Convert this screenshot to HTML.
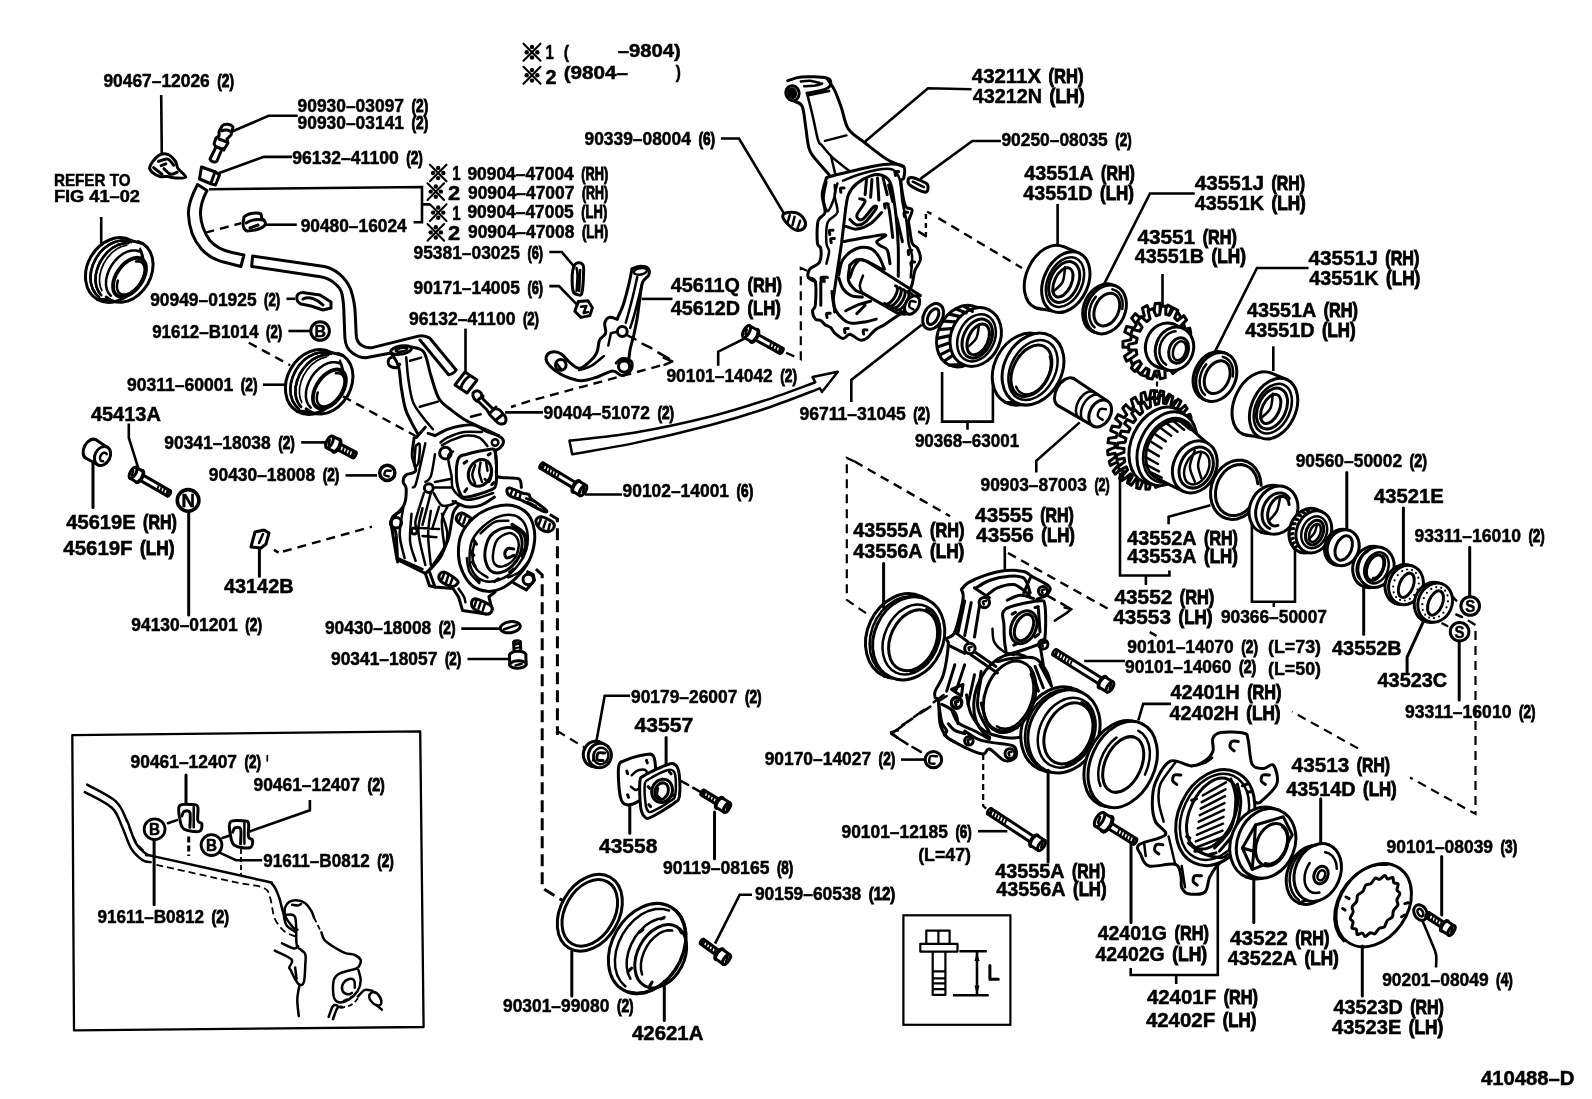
<!DOCTYPE html>
<html><head><meta charset="utf-8"><title>410488-D</title>
<style>
html,body{margin:0;padding:0;background:#fff;}
body{width:1592px;height:1099px;overflow:hidden;}
svg{display:block;}
text{font-family:"Liberation Sans",sans-serif;fill:#000;stroke:#000;stroke-width:0.5;}
.b{font-weight:bold;}
.a{fill:none;stroke:#000;stroke-width:2.5;stroke-linecap:round;stroke-linejoin:round;}
.w{fill:#fff;stroke:#000;stroke-width:2.5;stroke-linecap:round;stroke-linejoin:round;}
.t{fill:none;stroke:#000;stroke-width:1.7;stroke-linecap:round;stroke-linejoin:round;}
.k{fill:none;stroke:#000;stroke-width:3;stroke-linecap:round;stroke-linejoin:round;}
.d{fill:none;stroke:#000;stroke-width:2.4;stroke-dasharray:9 6;}
.l{fill:none;stroke:#000;stroke-width:2.6;}
.f{fill:#000;stroke:none;}
</style></head><body>
<svg style="will-change:transform" width="1592" height="1099" viewBox="0 0 1592 1099">
<rect x="0" y="0" width="1592" height="1099" fill="#fff"/>
<!-- art_01_topleft.svg -->
<g class="l">
<path d="M161.2 95L161.8 154"/>
<path d="M297.7 115.8H268.5L232.7 131.3"/>
<path d="M292 156.9H263.8L218.6 173.3"/>
<path d="M209.1 189.3L422 187V222.3H413.6M422 204.4H430"/>
<path d="M265.7 224.7H296.8"/>
<path d="M286.5 298.8H295"/>
<path d="M288.4 331H310.4"/>
<path d="M263 384.7H287.5"/>
<path d="M465.5 328.6V371.9"/>
<path d="M505.1 412.4H543"/>
</g>
<path class="d" d="M205.4 232.6L241.2 223.2"/>
<path class="d" d="M248.8 342.7L290.3 365.3"/>
<path class="d" d="M343 396.4L415.6 436"/>
<!-- clip 90467 -->
<path class="k" style="fill:#fff" d="M149.8 166.7C150.7 163.9 155.3 157.8 158.3 155.7C161.2 153.7 164.9 153.6 167.7 154.4C170.5 155.3 173.5 158.7 175.2 161.0C177.0 163.4 176.3 165.9 178.0 168.6C179.8 171.2 186.1 175.5 185.6 177.0C185.1 178.6 178.2 178.1 175.2 178.0C172.2 177.9 170.2 176.7 167.7 176.5C165.2 176.2 162.7 177.1 160.1 176.5C157.6 175.8 154.3 174.3 152.6 172.7C150.9 171.1 148.8 169.5 149.8 166.7z"/><path class="k" d="M158.3 161.4C159.8 161.0 165.1 158.5 167.7 159.1C170.3 159.8 172.7 164.2 173.7 165.2M153.6 167.6L162.0 174.2M163.9 168.6C165.0 169.5 168.3 173.6 170.5 174.2C172.7 174.8 176.0 172.6 177.1 172.3M161.1 165.7L165.8 163.9"/>
<!-- union bolt 90930 -->
<g class="k">
<path d="M222 126c3-3 9-2 11 1l-2 8-4 4 1 4-3 5-3 1-5 12c-2 2-6 1-7-2l6-12-2-3 2-6 3-2 0-4z"/>
<path d="M222 131c3-2 7-1 9 1M219 139l8 3M217 147l7 3"/>
</g>
<!-- clip 96132 -->
<g class="k"><path d="M201.5 167l14 5 4 3-4 10-4-1-12-5z"/><path d="M215 172l-4 11"/></g>
<!-- hose 1 -->
<g class="k">
<path d="M197.5 184.5C192 195 188 205 188.4 214c.6 14 5 26 13 35 7 8 16 12 26 14l13.5 3.5 3-11.500-12-2.500c-9-2-16-5-22-12-6-8-9-17-9.500-27C200.500 206 203 198 207 190.500z"/>
</g>
<!-- clip 90480 -->
<g class="k"><path d="M244 217c4-4 14-5 17-3l1 5c3 1 4 4 3 6-3 4-12 6-18 6-3-1-4-4-4-8z"/><path d="M246 223c5-3 12-4 17-3M250 228l8-3"/></g>
<!-- hose 2 -->
<g class="k">
<path d="M252.600 256L251.700 266.400 320.400 276.700c6 1 10 3 13.200 5.700 5 4 8 8 8.500 12.200 1.500 7 1.800 14 1.900 20.800L344.900 338c.5 7 3 12 7.600 15 4 3 8 4.800 13.200 4.800L391 353M252.600 256L324.200 266.400c6 1 11 4 15.100 7.500 6 5 9 10 11.300 15.100 3 9 4.500 18 4.700 26.400L356.200 334.200c0 5 2 9 5.700 11.300 3 2 7 2.500 11.300 1.900L418.400 336.100c4-1 8 0 11.300 1.900L456.100 370c-2 3-5 4.500-7.500 4.700L420 340"/>
</g>
<!-- clip 90949 -->
<g class="k"><path d="M297 296c1-3 5-4 9-3l14 2 11 7v6l-8 2-12-4-10-2c-3-1-5-4-4-8z"/><path d="M303 299c6-3 14 0 20 6"/></g>
<!-- B circle -->
<circle class="k" cx="320.1" cy="331" r="9.3"/>
<text x="314.5" y="337" font-size="16" font-weight="bold" textLength="11.5" lengthAdjust="spacingAndGlyphs">B</text>
<!-- clip 96132 #2 -->
<g class="k"><path d="M455 385l10-13 12 8-10 13z"/><path d="M461 388c1-5 5-10 9-12"/></g>
<!-- bolt 90404 -->
<g class="k"><path d="M473 393c2-3 6-3 8 0l2 6 10 10c4-1 8 1 10 5 3 2 4 6 2 9-3 2-7 1-9-2l-6-6-3-5-8-8c-4-1-7-5-6-9z"/><path d="M478 400l5-4M490 413l6-6M496 420l6-5"/></g>

<!-- art_02.svg -->
<defs><g id="seal"><ellipse class="k" style="fill:#fff" cx="114.4" cy="270.1" rx="27.0" ry="34.0" transform="rotate(30.0 114.4 270.1)"/><path class="a" d="M99.2 297.3L95.5 293.7L92.7 289.0L91.0 283.5L90.4 277.4L91.1 271.0L92.9 264.7L95.8 258.6L99.6 253.0L104.2 248.2L109.4 244.5L115.0 241.9L120.6 240.6L126.0 240.7L131.1 242.1"/><path class="a" d="M101.3 295.3L98.3 291.3L96.3 286.4L95.5 280.8L95.8 274.8L97.3 268.6L99.8 262.5L103.4 256.9L107.7 251.9L112.5 247.9L117.8 245.0L123.1 243.4L128.3 243.1"/><path class="t" d="M102.5 291.7L100.4 287.1L99.5 281.7L99.7 275.8L101.2 269.6L103.7 263.6L107.2 258.1L111.4 253.2L116.3 249.3L121.4 246.6L126.6 245.2"/><path d="M131.4 240.7L142.2 243.4L109.8 299.6L97.4 299.5z" fill="#fff"/><path class="k" d="M131.4 240.7L142.2 243.4M97.4 299.5L109.8 299.6"/><path class="a" d="M99.2 297.3L95.5 293.7L92.7 289.0L91.0 283.5L90.4 277.4L91.1 271.0L92.9 264.7L95.8 258.6L99.6 253.0L104.2 248.2L109.4 244.5L115.0 241.9L120.6 240.6L126.0 240.7L131.1 242.1"/><path class="a" d="M101.3 295.3L98.3 291.3L96.3 286.4L95.5 280.8L95.8 274.8L97.3 268.6L99.8 262.5L103.4 256.9L107.7 251.9L112.5 247.9L117.8 245.0L123.1 243.4L128.3 243.1"/><path class="k" d="M138.2 241.6L143.2 243.9L147.3 247.5L150.4 252.3L152.4 258.0L153.1 264.3L152.5 270.9L150.7 277.6L147.7 284.0L143.6 289.8L138.8 294.7L133.3 298.6L127.5 301.1L121.6 302.2L115.9 301.9L110.7 300.2L106.2 297.0"/><path class="a" d="M110.8 295.8L108.4 292.9L106.7 289.2L106.0 284.9L106.1 280.0L107.2 275.0L109.1 269.9L111.8 265.0L115.2 260.5L119.1 256.7L123.3 253.6L127.6 251.5L131.9 250.5L136.0 250.5L139.6 251.5"/><ellipse class="k" style="fill:#fff;stroke-width:3.8" cx="129.5" cy="277.3" rx="13.0" ry="22.0" transform="rotate(35.0 129.5 277.3)"/><path class="a" d="M135.9 261.5L138.6 261.3L140.8 261.9L142.6 263.3L143.9 265.3L144.6 267.8L144.6 270.9L144.0 274.3L142.8 277.8L141.1 281.4L138.9 284.8L136.3 287.8L133.5 290.5L130.5 292.6L127.6 294.0L124.8 294.6L122.2 294.5L120.1 293.7L118.5 292.1L117.4 289.9L116.9 287.2L117.1 284.0L117.9 280.6"/></g>
</defs>
<use href="#seal"/>
<use href="#seal" transform="translate(199.9 111.8)"/>
<path class="l" d="M101.2 217V246"/>
<path class="l" d="M128.8 423.6V437.7L138.2 467.8"/>
<path class="k" d="M93 462V507.4"/>
<path class="k" d="M188.7 511.5V615"/>
<path class="l" d="M301.2 442.4H327.6"/>
<path class="l" d="M345.5 475.4H377"/>
<path class="k" d="M259.4 548.9V576.2"/>
<path class="l" d="M274 549.800l4.600 2.800"/><path class="d" d="M283 551.5L372 526.700"/>
<circle class="k" cx="188.1" cy="500.4" r="10.8" style="stroke-width:3.6"/><text x="181.5" y="507" font-size="18" font-weight="bold" textLength="13.5" lengthAdjust="spacingAndGlyphs">N</text>
<g><ellipse class="k" style="fill:#fff" cx="91.0" cy="449.0" rx="7.0" ry="10.5" transform="rotate(28.0 91.0 449.0)"/><path d="M95.9 439.7L107.2 447.2L97.8 464.8L86.1 458.3z" fill="#fff" stroke="none"/><path class="k" style="fill:#fff" style="fill:none" d="M95.9 439.7L107.2 447.2M86.1 458.3L97.8 464.8"/><ellipse class="k" style="fill:#fff" cx="102.5" cy="456.0" rx="7.5" ry="10.0" transform="rotate(28.0 102.5 456.0)"/><path class="a" d="M103.1 461.2L102.4 461.2L101.7 461.1L101.1 460.8L100.6 460.3L100.3 459.7L100.0 458.9L100.0 458.1L100.1 457.2L100.3 456.4L100.7 455.5L101.2 454.7L101.8 454.0L102.5 453.4L103.2 453.0L103.9 452.8L104.6 452.8L105.3 452.9L105.9 453.2L106.4 453.7L106.7 454.3"/></g>

<path class="k" style="fill:#fff" d="M167.5 496.1L138.0 479.1L141.0 473.9L170.5 490.9z"/><ellipse class="a" style="fill:#fff" cx="169.0" cy="493.5" rx="1.4" ry="3.0" transform="rotate(-150.1 169.0 493.5)"/><path class="a" style="stroke-width:1.9" d="M165.9 495.2L167.9 489.4M163.0 493.5L164.9 487.7M160.0 491.8L162.0 486.0M157.1 490.1L159.1 484.3"/><ellipse class="k" style="fill:#fff" cx="139.5" cy="476.5" rx="3.1" ry="6.9" transform="rotate(-150.1 139.5 476.5)"/><ellipse class="k" style="fill:#fff" cx="139.1" cy="476.3" rx="2.8" ry="6.2" transform="rotate(-150.1 139.1 476.3)"/><path d="M136.0 481.7L129.9 478.2L136.1 467.4L142.2 470.9z" fill="#fff" stroke="none"/><path class="k" style="fill:#fff" style="fill:none" d="M136.0 481.7L129.9 478.2M142.2 470.9L136.1 467.4"/><ellipse class="k" style="fill:#fff" cx="133.0" cy="472.8" rx="2.8" ry="6.2" transform="rotate(-150.1 133.0 472.8)"/><path class="a" d="M132.0 475.5L133.2 470.8"/>
<path class="k" style="fill:#fff" d="M353.0 457.8L335.1 448.5L338.1 442.9L356.0 452.2z"/><ellipse class="a" style="fill:#fff" cx="354.5" cy="455.0" rx="1.4" ry="3.2" transform="rotate(-152.5 354.5 455.0)"/><path class="a" style="stroke-width:1.9" d="M351.4 457.0L353.3 450.8M348.4 455.4L350.3 449.2M345.4 453.9L347.3 447.6M342.4 452.3L344.3 446.1M339.4 450.7L341.2 444.5"/><ellipse class="k" style="fill:#fff" cx="336.6" cy="445.7" rx="3.2" ry="7.3" transform="rotate(-152.5 336.6 445.7)"/><ellipse class="k" style="fill:#fff" cx="336.2" cy="445.5" rx="2.9" ry="6.5" transform="rotate(-152.5 336.2 445.5)"/><path d="M333.2 451.2L326.5 447.8L332.5 436.2L339.2 439.7z" fill="#fff" stroke="none"/><path class="k" style="fill:#fff" style="fill:none" d="M333.2 451.2L326.5 447.8M339.2 439.7L332.5 436.2"/><ellipse class="k" style="fill:#fff" cx="329.5" cy="442.0" rx="2.9" ry="6.5" transform="rotate(-152.5 329.5 442.0)"/><path class="a" d="M328.6 444.8L329.7 439.9"/>
<g><path class="k" style="fill:#fff" d="M255 532l9-2 5 3-3 11-5 4-10-1z"/><path class="a" d="M259 543l4-9"/></g>

<!-- art_03.svg -->
<path class="k" d="M390.7 352.5C392.0 354.7 396.6 360.0 398.3 365.6C400.1 371.3 400.0 379.2 401.1 386.4C402.3 393.5 403.5 402.5 405.3 408.5C407.0 414.5 409.3 417.9 411.5 422.3C413.7 426.7 417.2 432.7 418.4 434.8"/>
<path class="a" d="M406.2 357.3C406.6 361.0 407.3 372.1 408.4 379.5C409.5 386.8 410.5 395.4 412.9 401.6C415.2 407.8 419.2 412.2 422.5 416.8C425.9 421.4 431.2 427.2 432.9 429.2"/>
<path class="k" d="M411.5 347.0C413.6 347.8 420.7 347.4 423.9 352.1C427.2 356.8 428.3 367.5 430.8 375.3C433.4 383.1 435.4 392.8 439.1 398.8C442.8 404.8 448.4 407.6 453.0 411.3C457.6 414.9 461.5 417.9 466.8 420.9C472.1 423.9 479.5 426.8 484.8 429.2C490.1 431.7 496.3 434.4 498.6 435.5"/>
<ellipse class="k" cx="401.1" cy="350.1" rx="10.4" ry="4.1" transform="rotate(-10.0 401.1 350.1)"/>
<ellipse class="a" cx="401.5" cy="349.7" rx="5.8" ry="1.8" transform="rotate(-10.0 401.5 349.7)"/>
<path class="k" d="M393.5 356.2C392.7 356.8 389.4 357.8 388.7 359.4C388.0 361.0 388.1 364.2 389.4 365.6C390.6 367.0 394.5 367.9 396.3 367.7C398.0 367.5 399.2 364.8 399.7 364.2"/>
<path class="a" d="M410.1 360.8L421.2 357.6M419.8 406.8L437.8 401.6M470.9 416.8L480.6 414.3"/>
<path class="k" d="M416.3 437.5L425.3 427.2M428.1 433.4L435.0 435.5"/>
<path class="k" d="M435.0 435.6C437.1 434.5 443.3 431.0 447.4 429.4C451.6 427.7 455.3 426.6 459.9 425.9C464.5 425.2 470.9 424.4 475.1 425.2C479.2 426.0 481.5 429.2 484.8 430.7C488.0 432.2 491.7 433.0 494.4 434.2C497.2 435.4 499.9 436.3 501.4 437.7C502.9 439.0 503.7 440.8 503.4 442.5C503.2 444.2 501.4 446.7 500.0 448.0C498.6 449.3 495.9 450.0 495.1 450.4"/>
<path class="a" d="M440.5 442.5C441.7 441.7 443.5 439.4 447.4 437.7C451.4 435.9 458.3 433.0 464.0 432.1C469.8 431.2 479.0 432.1 482.0 432.1"/>
<path class="a" d="M441.9 445.3C443.7 444.3 448.8 441.3 453.0 439.7C457.1 438.1 462.4 435.9 466.8 435.6C471.2 435.2 475.8 435.9 479.2 437.7C482.7 439.4 486.2 444.8 487.5 446.2"/>
<circle class="a" cx="495.1" cy="442.5" r="3.3"/>
<path class="k" d="M458.5 458.4C460.2 454.7 461.7 455.7 466.8 454.2C471.9 452.7 484.2 449.9 488.9 449.4C493.6 448.9 493.9 448.4 495.1 451.5C496.4 454.6 496.4 462.5 496.5 468.1C496.6 473.6 496.9 481.0 495.8 484.7C494.8 488.4 495.1 488.1 490.3 490.2C485.5 492.3 471.9 496.7 466.8 497.1C461.7 497.6 461.6 496.4 459.9 493.0C458.1 489.5 456.7 482.1 456.4 476.4C456.2 470.6 456.8 462.1 458.5 458.4z"/>
<path class="a" d="M453.0 451.5C452.2 452.4 448.4 452.9 448.1 457.0C447.9 461.2 450.8 471.1 451.6 476.4C452.4 481.7 450.9 485.0 453.0 488.8C455.0 492.6 460.1 497.6 464.0 499.2C467.9 500.8 471.6 499.5 476.5 498.5C481.3 497.5 490.3 493.9 493.1 493.0"/>
<ellipse class="k" cx="479.9" cy="472.9" rx="11.1" ry="13.8" transform="rotate(25.0 479.9 472.9)"/>
<path class="a" d="M475.1 465.3C474.6 466.9 472.3 472.0 472.3 475.0C472.3 478.0 474.6 481.9 475.1 483.3M480.6 462.5C480.4 464.2 479.0 469.0 479.2 472.2C479.5 475.4 481.5 480.3 482.0 481.9M486.2 462.5L487.5 470.8M484.8 479.1C485.5 479.6 487.8 482.6 488.9 481.9C490.1 481.2 491.2 476.1 491.7 475.0"/>
<path class="k" d="M464.0 463.2L466.8 461.2M488.2 454.9L490.3 453.6M464.7 491.6L466.8 488.8M491.7 484.7L493.8 482.6"/>
<circle class="k" cx="445.4" cy="453.1" r="5.8"/>
<path class="k" d="M414.2 437.7C413.9 440.7 411.9 450.1 412.2 455.6C412.4 461.2 416.7 467.6 415.6 470.8C414.6 474.1 408.0 473.1 406.0 475.0C403.9 476.8 403.1 479.6 403.2 481.9C403.2 484.2 406.1 484.9 406.2 488.8C406.3 492.7 406.1 500.6 403.9 505.4C401.6 510.2 395.0 514.6 392.8 517.9C390.6 521.1 390.3 522.5 390.7 524.8C391.2 527.1 394.5 527.8 395.6 531.7C396.6 535.6 396.6 543.2 397.0 548.3C397.3 553.3 397.5 559.7 397.7 562.0"/>
<path class="a" d="M425.3 443.2C424.4 447.3 421.4 461.2 419.8 468.1C418.2 475.0 416.8 481.4 415.6 484.7C414.5 487.9 413.3 487.0 412.9 487.4M435.0 454.2C434.3 457.9 432.5 471.8 430.8 476.4C429.2 481.0 426.2 481.0 425.3 481.9M415.6 446.0C416.3 445.7 419.3 441.8 419.8 444.6C420.2 447.3 419.3 459.1 418.4 462.5C417.5 466.0 415.0 468.1 414.5 465.3C414.1 462.5 415.4 449.2 415.6 446.0"/>
<circle class="k" cx="428.8" cy="488.1" r="4.4"/>
<path class="a" d="M423.9 493.0C422.5 497.6 416.8 514.6 415.6 520.6C414.5 526.6 416.8 527.5 417.0 528.9M430.8 493.0L422.5 524.8M439.1 506.8L432.2 528.9M447.4 506.8C446.5 509.1 442.4 513.7 441.9 520.6C441.4 527.5 444.2 543.7 444.7 548.3M433.6 493.0C435.0 495.0 438.7 503.6 441.9 505.4C445.1 507.3 450.7 504.7 453.0 504.0C455.3 503.3 455.3 501.7 455.7 501.3M435.0 481.9L450.2 479.1M435.0 487.4L451.6 487.4"/>
<path class="k" d="M453.0 501.3C455.3 502.2 462.2 506.1 466.8 506.8C471.4 507.5 476.0 507.0 480.6 505.4C485.2 503.8 492.1 498.5 494.4 497.1"/>
<path class="k" d="M495.1 450.4C495.4 452.9 496.2 461.0 496.5 465.3C496.9 469.6 495.3 474.3 497.2 476.4C499.2 478.4 504.6 477.3 508.3 477.8C512.0 478.2 517.1 477.5 519.3 479.1C521.5 480.8 521.1 486.1 521.4 487.4"/>
<path class="k" style="fill:#fff" d="M456.4 517.2C457.0 515.5 459.1 512.4 462.0 513.0C464.8 513.6 471.9 518.4 473.7 520.6C475.5 522.8 474.1 525.0 473.0 526.2C472.0 527.3 469.9 528.4 467.5 527.8C465.1 527.2 460.3 524.5 458.5 522.7C456.7 520.9 455.8 518.8 456.4 517.2z"/><path class="a" d="M461.3 515.1L459.2 520.6M465.4 517.2L463.3 523.4M469.6 519.9L467.5 525.5"/>
<path class="k" style="fill:#fff" d="M535.9 520.6C536.3 518.7 538.7 516.5 541.5 516.7C544.2 517.0 550.4 520.2 552.5 522.0C554.6 523.8 554.6 525.9 553.9 527.5C553.2 529.1 550.8 531.6 548.4 531.7C546.0 531.8 541.5 530.1 539.4 528.2C537.3 526.4 535.6 522.5 535.9 520.6z"/><path class="a" d="M540.8 519.2L538.7 524.8M545.6 521.3L543.5 527.5M549.8 524.1L548.4 529.6"/>
<path class="k" style="fill:#fff" d="M506.9 490.2C507.0 488.9 507.8 487.7 510.3 488.1C512.9 488.6 519.0 491.9 522.1 493.0C525.2 494.0 527.5 493.7 529.0 494.6C530.5 495.5 528.3 496.0 531.1 498.5C533.9 501.0 543.4 507.4 545.6 509.6C547.8 511.7 547.0 512.6 544.2 511.6C541.5 510.7 532.9 506.0 529.0 504.0C525.1 502.1 523.9 501.3 520.7 499.9C517.5 498.5 512.0 497.3 509.7 495.7C507.4 494.1 506.8 491.5 506.9 490.2z"/><path class="a" d="M512.4 490.2L510.3 495.0M516.6 491.6L514.5 497.1M520.7 493.7L519.3 498.5M526.2 498.5L534.5 501.3M527.6 502.0L535.9 506.1"/>
<path class="k" style="fill:#fff" d="M458.5 555.3C458.3 549.1 458.5 541.0 461.3 534.6C464.0 528.1 469.6 521.2 475.1 516.6C480.6 512.0 488.2 508.8 494.4 506.9C500.7 505.1 507.1 504.6 512.4 505.5C517.7 506.5 522.8 509.2 526.2 512.4C529.7 515.7 531.8 520.0 533.2 524.9C534.5 529.7 535.2 535.5 534.5 541.5C533.9 547.5 532.0 554.8 529.0 560.8C526.0 566.8 521.2 572.8 516.6 577.4C512.0 582.0 506.2 586.2 501.4 588.5C496.5 590.8 492.4 591.7 487.5 591.3C482.7 590.8 476.5 589.0 472.3 585.7C468.2 582.5 464.9 577.0 462.6 571.9C460.3 566.8 458.7 561.5 458.5 555.3z"/>
<path class="a" d="M469.6 555.3C469.8 550.7 470.0 544.9 472.3 540.1C474.6 535.3 479.0 530.2 483.4 526.3C487.8 522.4 493.5 518.4 498.6 516.6C503.7 514.7 509.7 514.3 513.8 515.2C518.0 516.1 521.2 518.9 523.5 522.1C525.8 525.4 527.2 530.0 527.6 534.6C528.1 539.2 527.6 544.9 526.2 549.8C524.9 554.6 522.6 559.2 519.3 563.6C516.1 568.0 511.5 573.1 506.9 576.1C502.3 579.0 496.3 581.1 491.7 581.6C487.1 582.0 482.7 581.1 479.2 578.8C475.8 576.5 472.6 571.7 470.9 567.8C469.3 563.8 469.3 559.9 469.6 555.3z"/>
<path class="k" d="M484.8 555.3C484.8 549.5 486.8 540.6 490.3 536.0C493.8 531.3 500.9 528.3 505.5 527.7C510.1 527.0 515.2 529.0 518.0 531.8C520.7 534.6 522.3 539.4 522.1 544.2C521.9 549.1 519.8 556.2 516.6 560.8C513.3 565.4 507.1 570.3 502.7 571.9C498.4 573.5 493.3 573.3 490.3 570.5C487.3 567.8 484.8 561.1 484.8 555.3z"/>
<path class="a" d="M493.1 553.9C493.5 550.0 494.7 543.6 497.2 540.1C499.7 536.6 505.0 533.6 508.3 533.2C511.5 532.7 514.8 535.0 516.6 537.3C518.3 539.6 519.1 543.3 518.6 547.0C518.2 550.7 516.5 556.2 513.8 559.5C511.2 562.7 506.0 565.7 502.7 566.4C499.5 567.1 496.1 565.7 494.4 563.6C492.8 561.5 492.6 557.8 493.1 553.9z"/>
<path class="k" d="M513.8 549.1C512.9 549.0 509.8 547.7 508.3 548.4C506.8 549.1 505.0 551.6 504.8 553.2C504.6 554.8 505.4 557.7 506.9 558.1C508.4 558.4 512.7 555.8 513.8 555.3"/>
<path class="k" style="stroke-width:4" d="M512.4 524.9C514.3 526.3 521.2 529.7 523.5 533.2C525.8 536.6 526.5 541.9 526.2 545.6C526.0 549.3 522.8 553.7 522.1 555.3"/>
<path class="a" d="M475.1 541.5C474.6 543.8 472.1 550.7 472.3 555.3C472.6 559.9 473.9 565.4 476.5 569.1C479.0 572.8 485.7 576.1 487.5 577.4M480.6 533.2C482.9 531.3 489.8 524.2 494.4 522.1C499.1 520.0 506.0 521.0 508.3 520.7M508.3 577.4C510.1 576.5 515.9 574.7 519.3 571.9C522.8 569.1 527.4 562.7 529.0 560.8M466.8 558.1C467.3 560.4 467.5 567.8 469.6 571.9C471.6 576.1 477.6 581.1 479.2 583.0"/>
<path class="k" d="M473.7 540.1L476.5 544.2M470.9 551.2L473.7 555.3M472.3 562.2L475.1 566.4M476.5 578.8L479.2 581.6M494.4 581.6L498.6 578.8M509.7 571.9L513.8 569.1"/>
<path class="k" d="M429.5 571.9L435.0 587.1L453.0 588.5L458.5 596.8L462.6 610.6L486.2 614.1L491.7 607.9L488.9 596.8L495.1 592.0"/>
<path class="k" d="M513.8 583.0L526.2 589.9L534.5 580.2L533.2 574.7L527.6 571.9"/>
<path class="k" style="fill:#fff" d="M439.1 575.4C439.7 573.8 441.7 571.4 444.7 572.2C447.7 573.0 455.1 578.2 457.1 580.2C459.1 582.2 457.8 583.3 456.8 584.3C455.9 585.4 454.2 586.9 451.6 586.4C449.0 586.0 443.3 583.4 441.2 581.6C439.1 579.7 438.6 576.9 439.1 575.4z"/><path class="a" d="M444.0 574.0L441.9 579.5M448.1 576.1L446.1 582.3M452.3 578.8L450.2 584.6"/>
<path class="k" style="fill:#fff" d="M471.6 602.3C472.0 600.6 473.4 598.4 476.5 598.9C479.6 599.4 487.7 603.4 490.3 605.4C492.9 607.3 492.5 609.2 492.0 610.6C491.4 612.1 489.8 614.3 486.8 614.1C483.9 613.8 476.9 611.2 474.4 609.2C471.9 607.3 471.3 604.1 471.6 602.3z"/><path class="a" d="M476.5 600.2L474.4 606.5M480.6 602.3L478.5 608.5M484.8 604.4L482.7 610.6"/>
<circle class="k" cx="528.3" cy="579.5" r="5.3"/>
<path class="a" d="M458.5 588.5C459.4 589.9 462.9 594.5 464.0 596.8C465.2 599.1 465.2 601.4 465.4 602.3"/>
<path class="k" d="M390.7 522.1C391.2 521.1 391.5 517.9 393.5 515.9C395.5 513.9 401.0 511.3 402.5 510.4"/>
<path class="k" d="M390.7 522.1L397.0 559.5L425.3 573.3L429.5 585.7L435.0 587.1"/>
<path class="k" d="M425.3 573.3C426.5 572.1 428.5 571.7 432.2 566.4C435.9 561.1 444.0 550.2 447.4 541.5C450.9 532.7 451.1 519.8 453.0 513.8C454.8 507.8 457.6 506.9 458.5 505.5"/>
<path class="a" d="M403.2 508.3C402.6 512.7 399.5 526.3 399.7 534.6C400.0 542.9 403.8 554.2 404.6 558.1M411.5 513.8C411.3 518.4 409.4 533.6 410.1 541.5C410.8 549.3 414.7 557.6 415.6 560.8M422.5 508.3C421.9 512.2 417.9 522.4 418.4 531.8C418.9 541.3 424.2 559.5 425.3 565.0M430.8 511.1C430.4 515.0 428.1 525.6 428.1 534.6C428.1 543.6 430.4 559.9 430.8 565.0M441.9 513.8C442.8 517.3 447.4 527.7 447.4 534.6C447.4 541.5 444.7 549.5 441.9 555.3C439.1 561.1 432.7 566.8 430.8 569.1M415.6 527.7L439.1 529.0M422.5 536.0L436.4 537.3M397.7 558.1L422.5 569.1"/>
<circle class="k" cx="414.2" cy="531.1" r="3.0"/>
<circle class="k" cx="396.3" cy="522.8" r="5.3"/>
<circle class="k" style="stroke-width:3.4" cx="387.3" cy="472.9" r="7.6"/><path class="a" d="M390.7 470.8C389.9 470.8 386.9 470.1 385.9 470.8C384.9 471.5 384.1 474.1 384.5 475.0C385.0 475.9 388.0 476.1 388.7 476.4"/>
<ellipse class="k" cx="510.3" cy="627.2" rx="10.0" ry="5.5" transform="rotate(-8.0 510.3 627.2)"/><path class="a" d="M504.1 629.3L516.6 625.1"/><path class="l" d="M461.3 628.6L500.7 628.6"/>
<path class="k" style="fill:#fff" d="M543.0 462.9L577.7 483.8L574.6 488.9L540.0 468.1z"/><ellipse class="a" style="fill:#fff" cx="541.5" cy="465.5" rx="1.4" ry="3.0" transform="rotate(31.1 541.5 465.5)"/><path class="a" style="stroke-width:1.9" d="M544.6 463.9L542.5 469.6M547.5 465.6L545.4 471.4M550.4 467.4L548.3 473.1M553.3 469.1L551.3 474.9M556.2 470.9L554.2 476.6M559.2 472.6L557.1 478.4"/><ellipse class="k" style="fill:#fff" cx="576.1" cy="486.4" rx="3.0" ry="6.7" transform="rotate(31.1 576.1 486.4)"/><ellipse class="k" style="fill:#fff" cx="576.6" cy="486.6" rx="2.7" ry="6.0" transform="rotate(31.1 576.6 486.6)"/><path d="M579.7 481.5L586.1 485.4L579.9 495.6L573.5 491.8z" fill="#fff" stroke="none"/><path class="k" style="fill:#fff" style="fill:none" d="M579.7 481.5L586.1 485.4M573.5 491.8L579.9 495.6"/><ellipse class="k" style="fill:#fff" cx="583.0" cy="490.5" rx="2.7" ry="6.0" transform="rotate(31.1 583.0 490.5)"/><path class="a" d="M584.0 487.9L582.8 492.5"/>
<path class="l" d="M467.5 659H508"/>
<path class="k" style="fill:#fff" d="M520.4 641.8L521.0 654.4L514.2 654.7L513.6 642.2z"/><ellipse class="a" style="fill:#fff" cx="517.0" cy="642.0" rx="1.5" ry="3.4" transform="rotate(87.5 517.0 642.0)"/><path class="a" style="stroke-width:1.9" d="M520.5 643.6L513.7 645.1M520.6 647.0L513.9 648.5M520.8 650.4L514.0 651.9"/><ellipse class="k" style="fill:#fff" cx="517.6" cy="655.0" rx="3.7" ry="8.2" transform="rotate(87.5 517.6 655.0)"/><path d="M525.8 654.6L526.2 664.1L509.8 664.9L509.4 655.4z" fill="#fff" stroke="none"/><path class="k" style="fill:#fff" style="fill:none" d="M525.8 654.6L526.2 664.1M509.4 655.4L509.8 664.9"/><ellipse class="k" style="fill:#fff" cx="518.0" cy="664.5" rx="3.7" ry="8.2" transform="rotate(87.5 518.0 664.5)"/><path class="a" d="M521.7 663.8L515.6 665.4"/>
<path class="l" d="M585 494.5H622"/>
<path class="d" style="stroke-width:3;stroke-dasharray:12 6" d="M549.8 514.5L557.4 519V735"/>
<path class="d" style="stroke-width:3;stroke-dasharray:12 6" d="M535.9 569.1L542.2 575V888L565 902"/>
<!-- art_04.svg -->
<path class="l" d="M549.3 252.0L561.7 252.0L574.0 266.4"/>
<path class="k" style="fill:#fff" d="M574.0 266.4C574.8 264.3 576.0 263.2 577.5 262.9C579.0 262.6 581.7 263.2 582.8 264.6C583.8 266.1 583.8 267.0 583.6 271.7C583.5 276.3 582.9 289.0 581.9 292.8C580.9 296.6 579.0 294.8 577.5 294.5C576.0 294.2 574.0 294.2 573.1 291.0C572.2 287.8 572.1 279.3 572.2 275.2C572.4 271.1 573.1 268.4 574.0 266.4z"/><path class="a" d="M576.6 268.1C576.8 269.3 577.5 271.4 577.5 275.2C577.5 279.0 576.8 288.4 576.6 291.0M580.1 269.9L579.2 291.0"/>
<path class="l" d="M549.3 286.1L559.0 286.1L577.5 305.1"/>
<path class="k" style="fill:#fff" d="M578.4 301.6L588.0 300.7L592.4 307.7L589.8 315.6L581.0 317.4L574.8 311.2z"/><path class="a" d="M581.0 306.8L586.3 306.0L583.6 313.0L588.0 312.1"/>
<path class="k" d="M632.0 269.0C633.2 268.6 636.4 266.5 639.0 266.4C641.7 266.2 646.2 266.7 647.8 268.1C649.4 269.6 649.6 272.8 648.7 275.2C647.8 277.5 644.0 278.4 642.6 282.2C641.1 286.0 640.8 292.2 639.9 298.0C639.0 303.9 638.3 311.2 637.3 317.4C636.3 323.5 634.9 329.7 633.8 335.0C632.6 340.2 631.1 344.6 630.2 349.0C629.4 353.4 628.8 359.3 628.5 361.4"/>
<path class="k" d="M632.0 269.0C631.4 271.8 630.0 279.7 628.5 285.7C627.0 291.7 625.1 299.5 623.2 305.1C621.3 310.6 618.1 316.8 617.1 319.1"/>
<path class="a" d="M637.3 276.9C636.4 280.7 633.9 292.2 632.0 299.8C630.1 307.4 626.9 318.8 625.8 322.7M642.6 282.2C641.4 286.9 637.6 302.7 635.5 310.3C633.5 318.0 631.1 325.0 630.2 327.9"/>
<ellipse class="a" cx="640.4" cy="271.3" rx="6.7" ry="3.2" transform="rotate(-10.0 640.4 271.3)"/>
<path class="k" d="M617.1 319.1C615.7 318.8 611.2 316.7 609.1 317.4C607.1 318.1 605.3 320.9 604.7 323.5C604.2 326.2 606.5 330.4 605.6 333.2C604.7 336.0 600.9 337.0 599.5 340.2C598.0 343.5 598.7 348.7 596.8 352.6C594.9 356.4 591.0 360.5 588.0 363.1C585.1 365.7 582.2 368.4 579.2 368.4C576.3 368.4 573.4 365.5 570.5 363.1C567.5 360.8 564.3 356.2 561.7 354.3C559.0 352.4 557.0 351.7 554.6 351.7C552.3 351.7 548.9 352.7 547.6 354.3C546.3 355.9 545.5 358.7 546.7 361.4C547.9 364.0 551.5 367.7 554.6 370.1C557.7 372.6 560.8 374.5 565.2 376.3C569.6 378.1 575.7 380.5 581.0 380.7C586.3 380.8 591.6 378.8 596.8 377.2C602.1 375.6 608.6 371.3 612.7 371.0C616.8 370.7 618.5 375.4 621.5 375.4C624.4 375.4 628.5 373.1 630.2 371.0C632.0 369.0 632.3 365.0 632.0 363.1C631.7 361.2 630.2 360.3 628.5 359.6C626.7 358.9 623.5 358.1 621.5 358.7C619.4 359.3 617.1 362.4 616.2 363.1"/>
<path class="a" d="M610.9 333.2L608.3 345.5M610.9 333.2L617.9 331.5M603.9 356.1C601.8 357.7 595.7 363.4 591.6 365.7C587.5 368.1 581.3 369.4 579.2 370.1M556.4 363.1L561.7 370.1"/>
<circle class="k" cx="622.3" cy="331.5" r="4.9"/><circle class="k" cx="624.1" cy="366.6" r="5.6"/><circle class="k" cx="560.8" cy="364.9" r="5.3"/>
<path class="l" d="M641.7 298.9L672.5 298.9"/>
<path class="a" d="M626.7 335.0L635.5 339.4M642.6 343.8L651.4 348.2M658.4 352.6L668.9 358.7"/><path class="a" d="M663.7 357.8L672.5 361.4L664.5 364.9"/>
<path class="d" d="M660.1 365.7L530.0 400.9"/>
<path class="d" d="M530.0 400.9L511 407"/>
<path class="k" style="fill:#fff" d="M780.0 353.6L752.9 338.5L755.8 333.3L783.0 348.4z"/><ellipse class="a" style="fill:#fff" cx="781.5" cy="351.0" rx="1.4" ry="3.0" transform="rotate(-150.9 781.5 351.0)"/><path class="a" style="stroke-width:1.9" d="M778.5 352.7L780.3 346.9M775.5 351.1L777.4 345.3M772.5 349.4L774.4 343.6M769.6 347.8L771.4 342.0"/><ellipse class="k" style="fill:#fff" cx="754.4" cy="335.9" rx="3.2" ry="7.3" transform="rotate(-150.9 754.4 335.9)"/><ellipse class="k" style="fill:#fff" cx="753.9" cy="335.6" rx="2.9" ry="6.5" transform="rotate(-150.9 753.9 335.6)"/><path d="M750.8 341.3L743.3 337.2L749.7 325.8L757.1 330.0z" fill="#fff" stroke="none"/><path class="k" style="fill:#fff" style="fill:none" d="M750.8 341.3L743.3 337.2M757.1 330.0L749.7 325.8"/><ellipse class="k" style="fill:#fff" cx="746.5" cy="331.5" rx="2.9" ry="6.5" transform="rotate(-150.9 746.5 331.5)"/><path class="a" d="M745.5 334.3L746.8 329.4"/>
<path class="l" d="M718.2 365.7L718.2 351.7L744.6 338.5"/>
<!-- art_05.svg -->
<path class="k" d="M787.7 80.7C790.0 80.1 795.0 77.3 801.5 76.9C807.9 76.4 821.5 76.8 826.4 78.0C831.3 79.1 831.0 81.9 830.8 83.8C830.6 85.7 829.0 87.7 825.0 89.3C821.0 90.9 810.0 92.5 807.0 93.2"/>
<ellipse class="k" cx="792.5" cy="93.2" rx="6.6" ry="7.6" transform="rotate(-15.0 792.5 93.2)"/><ellipse class="k" style="fill:#000" cx="792.1" cy="93.2" rx="3.5" ry="4.4" transform="rotate(-15.0 792.1 93.2)"/>
<path class="a" d="M800.8 81.4C802.3 81.3 806.7 80.5 809.8 80.7C812.9 81.0 817.8 82.5 819.5 82.8M804.2 86.3C806.1 86.2 812.3 86.0 815.3 85.6C818.3 85.1 821.1 83.9 822.2 83.5M808.4 95.3L829.1 91.1"/>
<path class="k" d="M794.6 101.5C795.8 102.3 800.3 102.2 802.2 106.3C804.0 110.5 804.6 119.8 805.6 126.4C806.7 132.9 807.2 140.9 808.4 145.7C809.5 150.6 809.1 150.6 812.5 155.4C816.0 160.2 826.4 171.5 829.1 174.8"/>
<path class="a" d="M807.0 93.2C807.9 96.9 810.7 107.5 812.5 115.3C814.4 123.1 816.5 135.1 818.1 140.2C819.7 145.3 819.9 143.0 822.2 145.7C824.5 148.5 827.3 152.5 831.9 156.8C836.5 161.1 846.9 168.9 849.9 171.3"/>
<path class="k" d="M827.1 78.7C828.3 80.6 832.2 85.5 834.7 90.4C837.1 95.4 839.3 101.9 841.6 108.4C843.9 114.8 844.6 123.4 848.5 129.1C852.4 134.9 858.6 137.9 865.1 143.0C871.5 148.0 880.8 155.6 887.2 159.6C893.7 163.5 901.0 165.5 903.8 166.7"/>
<path class="a" d="M825.0 140.9L846.4 135.4M831.2 156.8L835.4 174.8"/>
<path class="l" d="M971.6 89.3L928.0 88.3L865.1 141.6"/>
<path class="l" d="M1001 141H972.3L920.4 178.9"/>
<path class="k" d="M908.0 180.3C908.2 178.9 909.1 177.1 912.1 177.5C915.1 178.0 923.3 181.2 925.9 183.1C928.6 184.9 928.2 187.1 928.0 188.6C927.8 190.1 927.4 192.5 924.5 192.1C921.7 191.6 913.5 187.8 910.7 185.8C908.0 183.9 907.7 181.7 908.0 180.3z"/><path class="a" d="M912.8 181.7L923.9 187.2"/>
<path class="l" d="M721 138.5H739L784.2 213.9"/>
<path class="k" style="fill:#fff" d="M782.8 215.3C783.3 213.9 785.2 212.9 787.7 212.5C790.1 212.2 794.5 211.9 797.3 213.2C800.2 214.6 803.8 218.4 804.9 220.8C806.1 223.3 805.5 226.1 804.2 227.8C803.0 229.4 799.4 230.5 797.3 230.5C795.3 230.5 793.9 229.4 791.8 227.8C789.7 226.1 786.4 222.9 784.9 220.8C783.4 218.8 782.4 216.7 782.8 215.3z"/><path class="a" d="M789.7 215.3L787.7 222.2M794.6 216.7L792.5 225.0M800.1 220.8L797.3 229.1"/>
<path class="k" d="M826.4 178.0C827.8 177.5 826.8 177.2 834.7 175.2C842.5 173.3 863.7 168.1 873.4 166.2C883.1 164.4 887.7 164.0 892.7 164.1C897.8 164.3 902.0 164.6 903.8 166.9C905.6 169.2 904.3 175.4 903.8 178.0C903.3 180.5 900.8 177.5 901.0 182.1C901.3 186.7 903.3 201.0 905.2 205.6C907.0 210.2 911.5 207.2 912.1 209.8C912.7 212.3 909.1 218.1 908.6 220.8C908.2 223.6 908.8 222.7 909.3 226.4C909.9 230.1 910.7 239.3 912.1 243.0C913.5 246.7 916.2 245.7 917.6 248.5C919.0 251.3 920.9 255.9 920.4 259.6C919.9 263.2 916.2 266.5 914.9 270.6C913.5 274.8 913.1 280.8 912.1 284.4C911.1 288.1 909.2 291.4 908.6 292.7"/>
<path class="k" d="M826.4 178.0C825.7 180.7 822.5 188.8 822.2 194.6C822.0 200.3 825.7 208.2 825.0 212.5C824.3 216.9 819.3 215.8 818.1 220.8C816.8 225.9 816.9 238.4 817.4 243.0C817.8 247.6 820.5 245.3 820.8 248.5C821.2 251.7 821.3 258.9 819.5 262.3C817.6 265.8 811.6 266.7 809.8 269.2C807.9 271.8 807.5 275.5 808.4 277.5C809.3 279.6 814.2 281.0 815.3 281.7"/>
<path class="a" d="M837.4 183.5C837.0 185.6 834.7 191.1 834.7 196.0C834.7 200.8 838.6 208.2 837.4 212.5C836.3 216.9 829.6 217.2 827.8 222.2C825.9 227.3 826.1 238.1 826.4 243.0C826.6 247.8 829.1 247.8 829.1 251.3C829.1 254.7 826.8 261.6 826.4 263.7"/>
<path class="a" d="M843.0 180.7C845.3 179.8 851.0 177.1 856.8 175.2C862.6 173.4 871.5 170.6 877.5 169.7C883.5 168.8 889.1 168.1 892.7 169.7C896.4 171.3 898.0 174.1 899.7 179.4C901.3 184.7 901.3 194.3 902.4 201.5C903.6 208.6 905.5 215.3 906.6 222.2C907.6 229.1 907.7 237.2 908.6 243.0C909.6 248.7 911.8 251.0 912.1 256.8C912.4 262.6 910.9 274.1 910.7 277.5"/>
<path class="k" d="M845.7 208.4C846.2 206.1 846.7 198.7 848.5 194.6C850.3 190.4 853.1 186.6 856.8 183.5C860.5 180.4 866.5 177.3 870.6 175.9C874.8 174.5 878.5 174.2 881.7 175.2C884.9 176.2 887.9 177.7 890.0 182.1C892.1 186.5 893.0 194.3 894.1 201.5C895.3 208.6 896.2 217.2 896.9 225.0C897.6 232.8 898.0 240.0 898.3 248.5C898.5 257.0 898.3 271.5 898.3 276.2"/>
<path class="k" d="M845.7 208.4L841.6 243.0L837.4 270.6L833.3 298.3L834.7 312.0"/>
<path class="k" d="M866.5 179.4L865.1 194.6M872.0 179.4L870.6 197.3M877.5 178.0L878.9 200.1M883.1 178.0L887.2 194.6M888.6 184.9L892.7 201.5"/>
<path class="k" d="M859.6 198.7C860.5 199.2 865.5 198.7 865.1 201.5C864.6 204.2 857.3 212.3 856.8 215.3C856.3 218.3 859.6 220.8 862.3 219.5C865.1 218.1 871.1 208.9 873.4 207.0C875.7 205.2 877.5 205.9 876.2 208.4C874.8 210.9 868.3 219.5 865.1 222.2C861.9 225.0 859.3 225.4 856.8 225.0C854.3 224.5 851.0 220.4 849.9 219.5M845.7 226.4C847.6 226.8 852.6 229.6 856.8 229.1C860.9 228.7 866.5 226.4 870.6 223.6C874.8 220.8 879.8 214.4 881.7 212.5M884.4 204.2C885.1 204.7 887.2 201.5 888.6 207.0C890.0 212.5 892.1 232.4 892.7 237.4M896.9 218.1L902.4 241.6"/>
<path class="k" d="M843.0 241.6C849.9 240.4 878.8 234.7 884.4 234.7C890.1 234.7 877.5 239.7 876.8 241.6C876.2 243.4 878.6 244.3 880.3 245.7C882.0 247.1 885.6 246.9 887.2 249.9C888.8 252.9 889.5 261.4 890.0 263.7"/>
<path class="k" d="M838.8 274.8C839.5 272.2 840.0 263.9 843.0 259.6C846.0 255.2 852.2 250.3 856.8 248.5C861.4 246.7 866.9 247.1 870.6 248.5C874.3 249.9 876.6 253.3 878.9 256.8C881.2 260.2 883.5 267.2 884.4 269.2M849.9 277.5C850.6 275.7 852.2 269.5 854.0 266.5C855.9 263.5 858.2 260.0 860.9 259.6C863.7 259.1 867.2 262.1 870.6 263.7C874.1 265.3 879.8 268.3 881.7 269.2"/>
<path class="k" d="M844.1 188.1C843.5 188.1 841.0 187.7 840.5 188.3C839.9 189.0 840.8 191.6 840.9 192.2"/>
<path class="k" d="M898.7 171.5C898.1 171.5 895.6 171.1 895.1 171.8C894.6 172.4 895.4 175.0 895.5 175.6"/>
<path class="k" d="M833.0 230.2C832.4 230.3 829.9 229.8 829.4 230.5C828.9 231.2 829.8 233.7 829.8 234.4"/>
<path class="k" d="M834.4 238.5C833.8 238.6 831.3 238.1 830.8 238.8C830.3 239.5 831.1 242.0 831.2 242.7"/>
<path class="k" d="M907.7 212.3C907.1 212.3 904.6 211.9 904.1 212.5C903.6 213.2 904.4 215.8 904.5 216.4"/>
<path class="k" d="M911.8 250.3C911.2 250.3 908.8 249.9 908.2 250.6C907.7 251.3 908.6 253.8 908.6 254.4"/>
<path class="k" d="M914.6 262.0C914.0 262.1 911.5 261.6 911.0 262.3C910.5 263.0 911.3 265.5 911.4 266.2"/>
<path class="k" d="M824.7 277.3C824.1 277.3 821.6 276.8 821.1 277.5C820.6 278.2 821.5 280.8 821.5 281.4"/>
<path class="k" d="M888.3 204.0C887.7 204.0 885.3 203.6 884.7 204.2C884.2 204.9 885.1 207.5 885.1 208.1"/>
<path class="a" d="M826.4 182.1C825.9 184.9 823.4 193.9 823.6 198.7C823.8 203.6 825.9 211.6 827.8 211.2C829.6 210.7 833.5 200.3 834.7 196.0C835.8 191.6 834.7 186.7 834.7 184.9"/>
<path class="d" style="stroke-dasharray:5 4" d="M931.5 213.9L925.9 211.2L925.9 236.1"/>
<path class="a" d="M919.0 231.9L925.9 236.1"/>
<path class="d" d="M938.4 218.1L1022 268"/>
<path class="k" d="M808.4 277.7C809.5 278.3 814.2 277.2 815.3 281.8C816.5 286.4 815.8 300.5 815.3 305.3C814.8 310.1 812.5 308.5 812.5 310.8C812.5 313.1 813.9 317.5 815.3 319.1C816.7 320.8 819.2 319.6 820.8 320.5C822.5 321.4 823.4 323.5 825.0 324.7C826.6 325.8 828.9 326.1 830.5 327.4C832.1 328.8 832.6 331.1 834.7 333.0C836.7 334.8 840.4 338.3 843.0 338.5C845.5 338.7 847.1 334.1 849.9 334.3C852.6 334.6 856.8 339.2 859.6 339.9C862.3 340.6 863.9 340.1 866.5 338.5C869.0 336.9 871.8 332.5 874.8 330.2C877.8 327.9 881.5 326.5 884.4 324.7C887.4 322.8 890.0 321.0 892.7 319.1C895.5 317.3 899.7 314.5 901.0 313.6"/>
<path class="k" d="M831.9 291.5C832.4 294.2 832.8 303.5 834.7 308.1C836.5 312.7 840.2 316.6 843.0 319.1C845.7 321.7 847.6 322.8 851.3 323.3C854.9 323.7 860.9 322.6 865.1 321.9C869.2 321.2 874.3 319.6 876.2 319.1M838.8 277.7C839.5 279.5 840.9 285.7 843.0 288.7C845.0 291.7 848.0 294.2 851.3 295.6C854.5 297.0 860.5 296.8 862.3 297.0M820.8 281.8L820.8 305.3M845.7 310.8C847.6 309.9 852.6 306.9 856.8 305.3C860.9 303.7 868.3 301.9 870.6 301.2M856.8 313.6L865.1 305.3"/>
<path class="k" d="M827.5 277.4C826.9 277.4 824.4 277.0 823.9 277.7C823.4 278.3 824.2 280.9 824.3 281.5"/>
<path class="k" d="M830.2 313.3C829.6 313.4 827.2 312.9 826.6 313.6C826.1 314.3 827.0 316.8 827.1 317.5"/>
<path class="k" d="M848.2 328.5C847.6 328.6 845.2 328.1 844.6 328.8C844.1 329.5 845.0 332.0 845.0 332.7"/>
<path class="k" d="M866.9 329.9C866.3 330.0 863.8 329.5 863.3 330.2C862.8 330.9 863.6 333.4 863.7 334.1"/>
<path class="k" d="M849.9 265.2C851.0 264.3 854.0 260.4 856.8 259.7C859.6 259.0 862.8 259.7 866.5 261.1C870.2 262.4 876.8 266.8 878.9 268.0"/><path class="k" d="M849.9 265.2C849.6 267.7 847.6 276.3 848.5 280.4C849.4 284.6 853.1 288.0 855.4 290.1C857.7 292.2 861.2 292.4 862.3 292.9"/>
<path class="k" d="M870.6 263.8L920.4 295.6"/><path class="k" d="M862.3 292.9L898.3 313.6"/><path class="a" d="M863.0 275.6C862.5 277.3 859.8 282.8 859.8 286.0C859.8 289.1 862.5 292.9 863.0 294.2"/>
<path class="k" d="M895.5 285.8L896.4 286.1L897.0 287.0L897.4 288.1L897.4 289.7L897.1 291.4L896.5 293.3L895.6 295.3L894.5 297.3L893.2 299.2L891.8 300.9L890.3 302.3L888.9 303.3L887.5 303.9L886.3 304.2L885.3 303.9L884.5 303.3"/>
<path class="k" d="M899.4 287.7L900.3 288.1L900.9 288.9L901.2 290.1L901.3 291.6L901.0 293.3L900.4 295.3L899.5 297.3L898.4 299.3L897.1 301.1L895.6 302.8L894.2 304.2L892.7 305.2L891.4 305.9L890.2 306.1L889.1 305.9L888.4 305.2"/>
<path class="k" d="M903.2 289.6L904.1 290.0L904.8 290.8L905.1 292.0L905.1 293.5L904.8 295.3L904.2 297.2L903.3 299.2L902.2 301.2L900.9 303.1L899.5 304.7L898.1 306.1L896.6 307.2L895.2 307.8L894.0 308.0L893.0 307.8L892.3 307.2"/>
<path class="k" d="M907.1 291.6L908.0 292.0L908.6 292.8L909.0 293.9L909.0 295.5L908.7 297.2L908.1 299.1L907.2 301.1L906.1 303.1L904.8 305.0L903.4 306.7L901.9 308.1L900.5 309.1L899.1 309.7L897.9 310.0L896.9 309.7L896.1 309.1"/>
<path class="k" d="M911.0 293.5L911.9 293.9L912.5 294.7L912.9 295.9L912.9 297.4L912.6 299.2L912.0 301.1L911.1 303.1L910.0 305.1L908.7 306.9L907.3 308.6L905.8 310.0L904.3 311.0L903.0 311.7L901.8 311.9L900.8 311.7L900.0 311.0"/>
<ellipse class="k" style="fill:#fff" cx="912.1" cy="305.0" rx="6.6" ry="10.0" transform="rotate(30.0 912.1 305.0)"/><path class="a" d="M915.6 301.9C914.8 301.7 911.8 300.4 910.7 301.2C909.7 302.0 908.9 305.3 909.3 306.7C909.8 308.1 912.8 309.0 913.5 309.5"/>
<path class="k" d="M898.3 313.6L905.2 314.3"/>
<ellipse class="k" style="fill:#fff" cx="933.1" cy="316.4" rx="9.4" ry="13.6" transform="rotate(28.0 933.1 316.4)"/><ellipse class="k" cx="933.1" cy="316.6" rx="4.7" ry="8.6" transform="rotate(28.0 933.1 316.6)"/>
<path class="l" d="M921.8 324.7L851.3 380.0L851.3 402.0"/>
<path class="d" style="stroke-width:2.2" d="M807.0 270.7L800.8 268.0L800.8 359.2L783.5 351.6"/>
<!-- art_06.svg -->
<defs><g id="brg"><ellipse class="k" style="fill:#fff" cx="1049.4" cy="277.2" rx="22.9" ry="33.6" transform="rotate(25.0 1049.4 277.2)"/><path d="M1063.6 246.7L1079.3 253.1L1052.3 311.0L1035.2 307.6z" fill="#fff" stroke="none"/><path class="k" style="fill:#fff" style="fill:none" d="M1063.6 246.7L1079.3 253.1M1035.2 307.6L1052.3 311.0"/><ellipse class="k" style="fill:#fff" cx="1065.8" cy="282.1" rx="22.1" ry="31.9" transform="rotate(25.0 1065.8 282.1)"/><ellipse class="a" cx="1065.0" cy="282.1" rx="17.2" ry="26.2" transform="rotate(25.0 1065.0 282.1)"/><ellipse class="k" cx="1064.2" cy="282.1" rx="13.9" ry="21.6" transform="rotate(25.0 1064.2 282.1)"/><ellipse class="k" cx="1062.9" cy="282.4" rx="8.5" ry="15.6" transform="rotate(25.0 1062.9 282.4)"/><path class="a" d="M1065.0 267.3C1064.6 269.8 1064.6 278.0 1062.5 282.1C1060.5 286.2 1054.3 290.3 1052.7 291.9"/></g>
</defs><use href="#brg"/><use href="#brg" transform="translate(207.8 126.5)"/>
<path class="l" d="M1057.6 204V244.4"/><path class="l" d="M1273.3 346.3V371"/>
<defs><g id="rgj"><ellipse class="k" style="fill:#fff" cx="1103.2" cy="308.3" rx="19.3" ry="25.4" transform="rotate(25.0 1103.2 308.3)"/><path d="M1113.9 285.3L1116.7 286.4L1095.2 332.5L1092.4 331.3z" fill="#fff" stroke="none"/><path class="k" style="fill:#fff" style="fill:none" d="M1113.9 285.3L1116.7 286.4M1092.4 331.3L1095.2 332.5"/><ellipse class="k" style="fill:#fff" cx="1105.9" cy="309.4" rx="19.3" ry="25.4" transform="rotate(25.0 1105.9 309.4)"/><ellipse class="k" cx="1106.8" cy="309.6" rx="11.8" ry="17.2" transform="rotate(25.0 1106.8 309.6)"/><path class="a" d="M1112.4 289.3L1115.7 290.6L1118.6 292.8L1120.8 296.0L1122.2 299.9L1122.7 304.3L1122.3 309.0"/><path class="a" d="M1094.6 327.3L1092.2 324.8L1090.5 321.5L1089.5 317.6L1089.2 313.4L1089.8 309.0L1091.1 304.6L1093.1 300.4L1095.8 296.7"/></g>
</defs><use href="#rgj"/><use href="#rgj" transform="translate(110.4 67.6)"/>
<path class="l" d="M1194.7 193.5H1150L1104.3 283.7"/>
<path class="l" d="M1308.5 268H1257L1214.7 352.1"/>
<ellipse class="k" style="fill:#fff" cx="962.6" cy="336.1" rx="24.6" ry="31.9" transform="rotate(25.0 962.6 336.1)"/><path d="M976.1 307.2L988.5 309.5L962.9 364.4L949.1 365.1z" fill="#fff" stroke="none"/><path class="k" style="fill:#fff" style="fill:none" d="M976.1 307.2L988.5 309.5M949.1 365.1L962.9 364.4"/><ellipse class="k" style="fill:#fff" cx="975.7" cy="337.0" rx="24.6" ry="30.3" transform="rotate(25.0 975.7 337.0)"/><path class="k" style="stroke-width:3.2" d="M944.4 361.0L952.4 355.7"/><path class="k" style="stroke-width:3.2" d="M940.0 354.9L949.4 350.1"/><path class="k" style="stroke-width:3.2" d="M937.6 347.1L948.2 343.3"/><path class="k" style="stroke-width:3.2" d="M937.4 338.4L948.8 335.9"/><path class="k" style="stroke-width:3.2" d="M939.5 329.5L951.1 328.6"/><path class="k" style="stroke-width:3.2" d="M943.6 321.1L955.1 321.9"/><path class="k" style="stroke-width:3.2" d="M949.4 314.1L960.2 316.6"/><path class="k" style="stroke-width:3.2" d="M956.3 309.0L966.2 312.9"/><path class="k" style="stroke-width:3.2" d="M963.9 306.2L972.4 311.4"/><ellipse class="a" cx="976.5" cy="337.8" rx="18.0" ry="24.6" transform="rotate(25.0 976.5 337.8)"/><ellipse class="k" cx="977.3" cy="338.6" rx="13.9" ry="20.5" transform="rotate(25.0 977.3 338.6)"/><ellipse class="k" cx="978.2" cy="339.4" rx="9.8" ry="16.4" transform="rotate(25.0 978.2 339.4)"/><path class="a" d="M979.0 324.7C978.6 326.9 978.2 334.2 976.5 337.8C974.9 341.3 970.4 344.6 969.1 346.0"/>
<ellipse class="k" style="fill:#fff" cx="1023.2" cy="369.1" rx="28.7" ry="37.7" transform="rotate(28.0 1023.2 369.1)"/><path d="M1040.9 335.9L1050.7 335.9L1015.4 402.4L1005.5 402.4z" fill="#fff" stroke="none"/><path class="k" style="fill:#fff" style="fill:none" d="M1040.9 335.9L1050.7 335.9M1005.5 402.4L1015.4 402.4"/><ellipse class="k" style="fill:#fff" cx="1033.0" cy="369.1" rx="28.7" ry="37.7" transform="rotate(28.0 1033.0 369.1)"/><ellipse class="a" cx="1033.0" cy="370.0" rx="22.1" ry="31.9" transform="rotate(28.0 1033.0 370.0)"/><ellipse class="k" cx="1031.4" cy="370.8" rx="18.0" ry="27.5" transform="rotate(28.0 1031.4 370.8)"/><path class="a" d="M1049.9 356.5L1050.8 360.4L1050.9 364.8L1050.3 369.5L1048.9 374.2L1046.8 378.9L1044.1 383.3L1040.9 387.1L1037.4 390.3L1033.7 392.6L1029.9 394.0L1026.3 394.5L1023.0 393.9L1020.1 392.4L1017.8 390.0L1016.2 386.7"/>
<path class="l" d="M942.1 372V421.6H992.9V382.3M967.5 421.6V429.8"/>
<ellipse class="k" style="fill:#fff" cx="1065.8" cy="392.1" rx="9.5" ry="15.6" transform="rotate(30.0 1065.8 392.1)"/><path d="M1073.6 378.6L1107.4 400.9L1093.0 425.9L1058.0 405.6z" fill="#fff" stroke="none"/><path class="k" style="fill:#fff" style="fill:none" d="M1073.6 378.6L1107.4 400.9M1058.0 405.6L1093.0 425.9"/><ellipse class="k" style="fill:#fff" cx="1100.2" cy="413.4" rx="10.2" ry="14.4" transform="rotate(30.0 1100.2 413.4)"/><path class="a" d="M1078.3 417.2L1077.0 415.5L1076.2 413.2L1075.9 410.6L1076.2 407.8L1076.9 404.8L1078.1 401.9L1079.7 399.1L1081.7 396.6L1083.9 394.4L1086.2 392.8L1088.6 391.7L1091.0 391.3L1093.1 391.5"/><path class="a" d="M1083.2 420.5L1081.9 418.7L1081.1 416.5L1080.9 413.9L1081.1 411.1L1081.8 408.1L1083.0 405.1L1084.6 402.3L1086.6 399.8L1088.8 397.7L1091.2 396.1L1093.5 395.0L1095.9 394.6L1098.0 394.8"/><path class="a" d="M1105.9 409.3C1105.0 409.3 1101.6 408.2 1100.2 409.3C1098.8 410.4 1097.3 414.1 1097.8 415.8C1098.2 417.6 1101.8 419.3 1102.7 419.9"/>
<path class="l" d="M1079.7 422.4L1036.3 460.9V472.4"/>
<path class="k" style="fill:#fff" d="M1174.7 350.0L1180.5 354.9L1177.6 360.0L1170.9 356.5L1168.1 359.9L1171.5 367.1L1167.2 370.6L1162.7 364.4L1159.1 366.4L1159.5 374.7L1154.5 376.0L1152.9 368.1L1149.2 368.3L1146.5 376.2L1141.8 375.1L1143.4 366.9L1140.2 365.2L1134.8 371.4L1131.2 368.1L1135.7 361.0L1133.5 357.7L1126.5 361.1L1124.5 356.2L1131.2 351.5L1130.5 347.2L1122.9 347.2L1123.0 341.4L1130.6 339.9L1131.5 335.4L1124.7 332.0L1126.8 326.4L1134.1 328.3L1136.4 324.3L1131.6 318.1L1135.3 313.7L1141.0 318.7L1144.3 315.9L1142.4 308.0L1147.1 305.5L1150.2 312.7L1154.0 311.6L1155.2 303.4L1160.1 303.3L1160.1 311.4L1163.7 312.3L1167.8 305.1L1172.0 307.3L1168.9 315.1L1171.7 317.6L1178.0 312.7L1180.9 317.0L1175.2 323.0L1176.6 326.8L1184.1 325.1L1185.1 330.6L1177.8 333.8L1177.7 338.3L1185.0 340.0L1183.9 345.8L1176.3 345.7z"/><path class="k" style="fill:#fff" d="M1180.4 352.9L1186.3 357.8L1183.3 362.9L1176.7 359.4L1173.8 362.9L1177.2 370.1L1172.9 373.6L1168.4 367.4L1164.8 369.4L1165.2 377.6L1160.3 378.9L1158.7 371.1L1154.9 371.2L1152.2 379.1L1147.5 378.0L1149.1 369.9L1145.9 368.1L1140.6 374.3L1136.9 371.0L1141.4 364.0L1139.3 360.7L1132.2 364.1L1130.3 359.1L1136.9 354.4L1136.2 350.1L1128.7 350.1L1128.7 344.4L1136.3 342.8L1137.2 338.3L1130.5 334.9L1132.5 329.4L1139.8 331.2L1142.1 327.2L1137.4 321.1L1141.1 316.7L1146.8 321.6L1150.1 318.8L1148.1 310.9L1152.9 308.5L1156.0 315.7L1159.7 314.6L1160.9 306.3L1165.8 306.2L1165.8 314.4L1169.4 315.2L1173.5 308.0L1177.8 310.3L1174.6 318.0L1177.4 320.6L1183.7 315.7L1186.6 319.9L1180.9 325.9L1182.4 329.8L1189.8 328.1L1190.8 333.6L1183.5 336.7L1183.4 341.2L1190.7 343.0L1189.6 348.8L1182.0 348.6z"/><ellipse class="k" style="fill:#fff" cx="1165.5" cy="345.5" rx="19.7" ry="22.9" transform="rotate(20.0 1165.5 345.5)"/><path d="M1173.4 324.0L1182.1 328.0L1167.0 369.6L1157.7 367.1z" fill="#fff" stroke="none"/><path class="k" style="fill:#fff" style="fill:none" d="M1173.4 324.0L1182.1 328.0M1157.7 367.1L1167.0 369.6"/><ellipse class="k" style="fill:#fff" cx="1174.5" cy="348.8" rx="18.8" ry="22.1" transform="rotate(20.0 1174.5 348.8)"/><ellipse class="k" cx="1178.6" cy="350.4" rx="9.5" ry="13.1" transform="rotate(20.0 1178.6 350.4)"/><ellipse class="a" cx="1179.5" cy="350.8" rx="6.2" ry="9.8" transform="rotate(20.0 1179.5 350.8)"/><path class="a" d="M1166.1 364.6L1163.5 362.5L1161.5 359.8L1160.2 356.5L1159.5 352.9L1159.5 349.1L1160.2 345.3L1161.6 341.6L1163.6 338.3L1166.2 335.5L1169.1 333.3L1172.3 331.8L1175.6 331.2"/>
<path class="l" d="M1162.5 274V306"/><path class="d" style="stroke-dasharray:5 3;stroke-width:2.2" d="M1157 373.4V393"/>
<path class="k" style="fill:#fff" d="M1170.3 451.2L1175.8 455.9L1173.3 460.1L1167.0 456.9L1164.6 460.1L1168.7 466.4L1165.6 470.0L1160.5 464.9L1157.7 467.5L1160.1 475.0L1156.5 477.6L1152.9 471.1L1149.9 472.9L1150.4 481.0L1146.7 482.5L1144.9 475.0L1141.9 475.8L1140.5 484.0L1136.8 484.3L1137.0 476.3L1134.1 476.1L1130.9 483.8L1127.5 482.9L1129.6 475.0L1127.1 473.8L1122.3 480.5L1119.5 478.4L1123.3 471.1L1121.3 469.0L1115.3 474.2L1113.2 471.1L1118.6 464.9L1117.3 462.0L1110.4 465.4L1109.2 461.5L1115.7 456.8L1115.1 453.3L1107.9 454.7L1107.6 450.3L1114.9 447.4L1115.1 443.6L1108.0 442.8L1108.7 438.2L1116.1 437.3L1117.1 433.4L1110.6 430.6L1112.2 426.0L1119.4 427.2L1121.1 423.5L1115.6 418.8L1118.1 414.6L1124.4 417.8L1126.8 414.5L1122.7 408.2L1125.8 404.7L1130.9 409.7L1133.7 407.1L1131.3 399.7L1134.9 397.1L1138.5 403.5L1141.5 401.8L1141.0 393.7L1144.7 392.2L1146.5 399.7L1149.5 398.9L1150.9 390.7L1154.6 390.4L1154.4 398.4L1157.3 398.6L1160.5 390.9L1163.9 391.8L1161.8 399.7L1164.3 400.9L1169.1 394.2L1171.9 396.3L1168.1 403.6L1170.1 405.7L1176.1 400.5L1178.2 403.5L1172.8 409.8L1174.1 412.7L1181.0 409.3L1182.2 413.1L1175.7 417.9L1176.3 421.4L1183.5 420.0L1183.8 424.4L1176.5 427.3L1176.3 431.1L1183.4 431.8L1182.7 436.5L1175.3 437.4L1174.3 441.3L1180.8 444.1L1179.2 448.7L1172.0 447.5z"/><path class="k" style="fill:#fff" d="M1179.3 456.1L1184.8 460.8L1182.3 465.0L1176.0 461.8L1173.7 465.1L1177.7 471.3L1174.6 474.9L1169.5 469.9L1166.7 472.5L1169.1 479.9L1165.5 482.5L1162.0 476.0L1158.9 477.8L1159.5 485.9L1155.7 487.4L1153.9 479.9L1150.9 480.7L1149.5 488.9L1145.8 489.2L1146.0 481.2L1143.1 481.0L1139.9 488.7L1136.5 487.8L1138.6 479.9L1136.1 478.7L1131.3 485.4L1128.5 483.3L1132.4 476.0L1130.4 473.9L1124.4 479.1L1122.2 476.0L1127.6 469.8L1126.3 466.9L1119.4 470.3L1118.2 466.5L1124.7 461.7L1124.2 458.2L1116.9 459.6L1116.6 455.2L1123.9 452.3L1124.1 448.5L1117.0 447.8L1117.7 443.1L1125.1 442.2L1126.1 438.3L1119.6 435.5L1121.3 430.9L1128.4 432.1L1130.1 428.4L1124.6 423.7L1127.1 419.5L1133.4 422.7L1135.8 419.5L1131.7 413.2L1134.8 409.6L1140.0 414.6L1142.7 412.1L1140.4 404.6L1143.9 402.0L1147.5 408.5L1150.5 406.7L1150.0 398.6L1153.7 397.1L1155.5 404.6L1158.5 403.8L1159.9 395.6L1163.6 395.3L1163.4 403.3L1166.3 403.5L1169.5 395.8L1172.9 396.7L1170.8 404.6L1173.3 405.8L1178.1 399.1L1181.0 401.2L1177.1 408.5L1179.1 410.6L1185.1 405.4L1187.2 408.5L1181.8 414.7L1183.1 417.6L1190.0 414.2L1191.2 418.1L1184.7 422.8L1185.3 426.3L1192.5 424.9L1192.8 429.3L1185.6 432.2L1185.3 436.0L1192.4 436.8L1191.7 441.4L1184.3 442.3L1183.3 446.2L1189.8 449.0L1188.2 453.6L1181.0 452.4z"/><ellipse class="k" style="fill:#fff" cx="1160.4" cy="445.5" rx="29.2" ry="40.1" transform="rotate(25.0 1160.4 445.5)"/><path d="M1177.4 409.2L1183.3 413.9L1150.7 483.7L1143.5 481.9z" fill="#fff" stroke="none"/><path class="k" style="fill:#fff" style="fill:none" d="M1177.4 409.2L1183.3 413.9M1143.5 481.9L1150.7 483.7"/><ellipse class="k" style="fill:#fff" cx="1167.0" cy="448.8" rx="27.9" ry="38.5" transform="rotate(25.0 1167.0 448.8)"/><ellipse class="a" cx="1169.5" cy="450.4" rx="24.6" ry="33.6" transform="rotate(25.0 1169.5 450.4)"/><ellipse class="k" style="fill:#fff" cx="1170.3" cy="450.4" rx="22.9" ry="31.1" transform="rotate(25.0 1170.3 450.4)"/><path d="M1183.4 422.2L1206.3 442.3L1183.4 491.3L1157.1 478.7z" fill="#fff" stroke="none"/><path class="k" style="fill:#fff" style="fill:none" d="M1183.4 422.2L1206.3 442.3M1157.1 478.7L1183.4 491.3"/><ellipse class="k" style="fill:#fff" cx="1194.8" cy="466.8" rx="21.3" ry="27.0" transform="rotate(25.0 1194.8 466.8)"/><path class="a" d="M1153.7 476.5L1166.0 482.5"/><path class="a" d="M1149.3 471.6L1161.7 477.7"/><path class="a" d="M1146.6 464.9L1159.0 471.4"/><path class="a" d="M1145.7 457.2L1158.0 464.0"/><path class="a" d="M1146.7 448.9L1158.9 456.1"/><path class="a" d="M1149.5 440.8L1161.6 448.4"/><path class="a" d="M1153.9 433.4L1165.8 441.4"/><path class="a" d="M1159.6 427.3L1171.2 435.7"/><path class="a" d="M1166.1 423.0L1177.5 431.7"/><path class="a" d="M1173.0 420.8L1184.1 429.7"/><path class="a" d="M1179.6 421.0L1190.5 429.9"/><ellipse class="k" cx="1196.2" cy="467.6" rx="16.1" ry="21.3" transform="rotate(25.0 1196.2 467.6)"/><ellipse class="a" cx="1196.8" cy="468.1" rx="11.5" ry="17.2" transform="rotate(25.0 1196.8 468.1)"/><path class="a" d="M1194.8 450.4C1194.0 453.2 1189.9 461.6 1189.9 466.8C1189.9 472.0 1194.0 479.1 1194.8 481.6M1201.4 452.1C1200.9 454.3 1198.1 460.8 1198.1 465.2C1198.1 469.6 1200.9 476.1 1201.4 478.3"/>
<path class="l" d="M1120 472.8V575.5H1169.4V570.4M1145.9 575.5V585"/>
<path class="k" d="M1252.4 509.4L1247.9 513.7L1242.8 516.9L1237.4 518.9L1231.9 519.5L1226.7 518.6L1221.8 516.5L1217.6 513.1L1214.3 508.6L1211.9 503.2L1210.7 497.2L1210.6 490.9L1211.7 484.5L1214.0 478.3L1217.2 472.7L1221.4 467.9L1226.2 464.1L1231.4 461.5L1236.9 460.2L1242.3 460.3L1247.4 461.8L1251.9 464.5L1255.7 468.5L1258.6 473.4L1260.4 479.1L1261.1 485.3"/><path class="k" d="M1248.8 508.5L1244.9 511.8L1240.7 514.1L1236.3 515.4L1231.9 515.6L1227.7 514.7L1223.9 512.7L1220.6 509.7L1218.1 505.9L1216.3 501.4L1215.5 496.3L1215.6 491.0L1216.6 485.7L1218.4 480.6L1221.1 475.8L1224.4 471.7L1228.3 468.4L1232.6 466.0L1237.0 464.7L1241.4 464.5L1245.6 465.5L1249.4 467.5L1252.6 470.4L1255.2 474.3L1256.9 478.8L1257.8 483.8"/>
<path class="l" d="M1210.4 505.3L1168.6 516.8V524.2"/>
<ellipse class="k" style="fill:#fff" cx="1270.2" cy="509.4" rx="20.5" ry="24.6" transform="rotate(22.0 1270.2 509.4)"/><path d="M1279.4 486.6L1286.0 487.5L1267.6 533.0L1261.0 532.2z" fill="#fff" stroke="none"/><path class="k" style="fill:#fff" style="fill:none" d="M1279.4 486.6L1286.0 487.5M1261.0 532.2L1267.6 533.0"/><ellipse class="k" style="fill:#fff" cx="1276.8" cy="510.2" rx="20.5" ry="24.6" transform="rotate(22.0 1276.8 510.2)"/><path class="k" d="M1269.7 528.5L1267.1 527.0L1265.0 524.8L1263.3 521.9L1262.4 518.5L1262.0 514.7L1262.4 510.8L1263.4 506.9L1265.1 503.2L1267.3 499.9L1269.9 497.1L1272.8 494.9L1276.0 493.5L1279.1 492.9L1282.2 493.1L1285.0 494.1L1287.4 496.0L1289.3 498.5"/><path class="k" d="M1277.9 525.4L1275.6 525.9L1273.4 525.8L1271.5 524.9L1269.9 523.4L1268.6 521.4L1267.9 518.8L1267.6 515.9L1267.8 512.8L1268.5 509.6L1269.7 506.4L1271.3 503.5L1273.2 500.9L1275.3 498.8L1277.6 497.3L1280.0 496.4L1282.2 496.2L1284.3 496.7L1286.1 497.8L1287.6 499.6L1288.6 501.9L1289.1 504.6"/><path class="a" d="M1280.0 498.0C1279.5 500.1 1278.7 507.2 1276.8 511.1C1274.9 514.9 1269.9 519.3 1268.6 520.9"/>
<ellipse class="k" style="fill:#fff" cx="1308.0" cy="530.6" rx="18.3" ry="22.9" transform="rotate(22.0 1308.0 530.6)"/><path d="M1316.6 509.4L1321.9 511.7L1305.7 551.8L1299.4 551.9z" fill="#fff" stroke="none"/><path class="k" style="fill:#fff" style="fill:none" d="M1316.6 509.4L1321.9 511.7M1299.4 551.9L1305.7 551.8"/><ellipse class="k" style="fill:#fff" cx="1313.8" cy="531.8" rx="17.2" ry="21.6" transform="rotate(22.0 1313.8 531.8)"/><path class="k" d="M1294.3 548.0L1296.9 546.2"/><path class="k" d="M1291.7 544.2L1294.7 542.5"/><path class="k" d="M1289.9 539.6L1293.3 538.2"/><path class="k" d="M1289.3 534.5L1293.0 533.5"/><path class="k" d="M1289.8 529.1L1293.6 528.6"/><path class="k" d="M1291.3 523.9L1295.2 523.8"/><path class="k" d="M1293.9 519.0L1297.7 519.5"/><path class="k" d="M1297.2 514.8L1300.9 515.8"/><path class="k" d="M1301.3 511.6L1304.7 513.1"/><path class="k" d="M1305.7 509.5L1308.8 511.4"/><ellipse class="a" cx="1314.2" cy="532.3" rx="12.3" ry="16.4" transform="rotate(22.0 1314.2 532.3)"/><ellipse class="k" cx="1314.6" cy="532.6" rx="8.5" ry="12.8" transform="rotate(22.0 1314.6 532.6)"/><ellipse class="a" cx="1314.9" cy="532.9" rx="5.2" ry="9.5" transform="rotate(22.0 1314.9 532.9)"/><path class="a" d="M1317.0 524.4C1316.6 525.8 1315.9 530.1 1314.6 532.6C1313.2 535.1 1309.8 538.1 1308.8 539.1"/>
<path class="l" d="M1251.9 522V601.8H1295V549M1273.800 601.8V607"/>
<ellipse class="k" style="fill:#fff" cx="1340.5" cy="547.3" rx="15.6" ry="18.3" transform="rotate(22.0 1340.5 547.3)"/><path d="M1347.3 530.3L1350.1 530.7L1336.4 564.7L1333.6 564.4z" fill="#fff" stroke="none"/><path class="k" style="fill:#fff" style="fill:none" d="M1347.3 530.3L1350.1 530.7M1333.6 564.4L1336.4 564.7"/><ellipse class="k" style="fill:#fff" cx="1343.2" cy="547.7" rx="15.6" ry="18.3" transform="rotate(22.0 1343.2 547.7)"/><ellipse class="k" cx="1343.7" cy="548.0" rx="7.9" ry="12.8" transform="rotate(22.0 1343.7 548.0)"/>
<path class="k" d="M1346.8 472.6V529.3"/>
<ellipse class="k" style="fill:#fff" cx="1371.1" cy="567.0" rx="18.0" ry="21.0" transform="rotate(22.0 1371.1 567.0)"/><path d="M1378.9 547.6L1383.7 548.3L1368.3 586.3L1363.2 586.4z" fill="#fff" stroke="none"/><path class="k" style="fill:#fff" style="fill:none" d="M1378.9 547.6L1383.7 548.3M1363.2 586.4L1368.3 586.3"/><ellipse class="k" style="fill:#fff" cx="1376.0" cy="567.3" rx="17.7" ry="20.5" transform="rotate(22.0 1376.0 567.3)"/><ellipse class="a" cx="1376.5" cy="567.8" rx="11.5" ry="16.1" transform="rotate(22.0 1376.5 567.8)"/><ellipse class="k" cx="1375.2" cy="567.8" rx="7.9" ry="13.4" transform="rotate(22.0 1375.2 567.8)"/><path class="k" style="stroke-width:3.5" d="M1382.4 556.2L1383.4 557.4L1384.1 559.0L1384.4 561.0L1384.4 563.3L1384.0 565.7L1383.4 568.2L1382.4 570.7L1381.1 572.9L1379.7 574.9L1378.1 576.6L1376.5 577.8L1374.9 578.5L1373.4 578.6"/><path class="a" d="M1359.1 578.2L1357.6 575.3L1356.8 572.0L1356.7 568.5L1357.2 565.0L1358.3 561.5L1360.0 558.2L1362.2 555.4L1364.8 553.1L1367.7 551.4"/>
<path class="k" d="M1363.7 586.7V634.2"/>
<ellipse class="k" style="fill:#fff" cx="1402.7" cy="584.5" rx="17.2" ry="20.3" transform="rotate(22.0 1402.7 584.5)"/><path d="M1410.3 565.7L1413.5 566.5L1398.5 603.6L1395.1 603.4z" fill="#fff" stroke="none"/><path class="k" style="fill:#fff" style="fill:none" d="M1410.3 565.7L1413.5 566.5M1395.1 603.4L1398.5 603.6"/><ellipse class="k" style="fill:#fff" cx="1406.0" cy="585.0" rx="16.9" ry="20.0" transform="rotate(22.0 1406.0 585.0)"/><ellipse class="k" cx="1406.3" cy="585.3" rx="6.9" ry="12.8" transform="rotate(22.0 1406.3 585.3)"/><circle class="f" cx="1417.4" cy="589.6" r="1.1"/><circle class="f" cx="1414.2" cy="595.0" r="1.1"/><circle class="f" cx="1409.8" cy="598.8" r="1.1"/><circle class="f" cx="1404.8" cy="600.5" r="1.1"/><circle class="f" cx="1400.0" cy="599.9" r="1.1"/><circle class="f" cx="1396.1" cy="597.0" r="1.1"/><circle class="f" cx="1393.7" cy="592.3" r="1.1"/><circle class="f" cx="1393.2" cy="586.5" r="1.1"/><circle class="f" cx="1394.6" cy="580.4" r="1.1"/><circle class="f" cx="1397.8" cy="575.1" r="1.1"/><circle class="f" cx="1402.2" cy="571.2" r="1.1"/><circle class="f" cx="1407.2" cy="569.5" r="1.1"/><circle class="f" cx="1412.0" cy="570.1" r="1.1"/><circle class="f" cx="1415.9" cy="573.0" r="1.1"/><circle class="f" cx="1418.3" cy="577.7" r="1.1"/><circle class="f" cx="1418.8" cy="583.6" r="1.1"/><ellipse class="k" style="fill:#fff" cx="1431.9" cy="602.2" rx="17.2" ry="20.3" transform="rotate(22.0 1431.9 602.2)"/><path d="M1439.5 583.4L1442.6 584.2L1427.7 621.2L1424.3 621.1z" fill="#fff" stroke="none"/><path class="k" style="fill:#fff" style="fill:none" d="M1439.5 583.4L1442.6 584.2M1424.3 621.1L1427.7 621.2"/><ellipse class="k" style="fill:#fff" cx="1435.2" cy="602.7" rx="16.9" ry="20.0" transform="rotate(22.0 1435.2 602.7)"/><ellipse class="k" cx="1435.5" cy="603.0" rx="6.9" ry="12.8" transform="rotate(22.0 1435.5 603.0)"/><circle class="f" cx="1446.5" cy="607.3" r="1.1"/><circle class="f" cx="1443.4" cy="612.7" r="1.1"/><circle class="f" cx="1439.0" cy="616.5" r="1.1"/><circle class="f" cx="1434.0" cy="618.2" r="1.1"/><circle class="f" cx="1429.1" cy="617.6" r="1.1"/><circle class="f" cx="1425.2" cy="614.7" r="1.1"/><circle class="f" cx="1422.8" cy="610.0" r="1.1"/><circle class="f" cx="1422.3" cy="604.2" r="1.1"/><circle class="f" cx="1423.8" cy="598.1" r="1.1"/><circle class="f" cx="1426.9" cy="592.8" r="1.1"/><circle class="f" cx="1431.3" cy="588.9" r="1.1"/><circle class="f" cx="1436.3" cy="587.2" r="1.1"/><circle class="f" cx="1441.2" cy="587.8" r="1.1"/><circle class="f" cx="1445.1" cy="590.7" r="1.1"/><circle class="f" cx="1447.5" cy="595.4" r="1.1"/><circle class="f" cx="1448.0" cy="601.3" r="1.1"/>
<path class="k" d="M1403.4 508V564.5"/><path class="k" d="M1424.3 619.4L1407.1 657.1V672"/>
<circle class="k" cx="1470.2" cy="606.0" r="9.3" style="fill:#fff"/><text x="1465.2" y="611.8" font-size="16" font-weight="bold" textLength="10" lengthAdjust="spacingAndGlyphs">S</text>
<circle class="k" cx="1459.6" cy="631.7" r="9.3" style="fill:#fff"/><text x="1454.6" y="637.5" font-size="16" font-weight="bold" textLength="10" lengthAdjust="spacingAndGlyphs">S</text>
<path class="k" d="M1469.7 547.3V596.5"/><path class="k" d="M1459.2 641.2V700"/>
<path class="a" d="M1452.2 596.5L1456.3 600.6M1456.3 614.5L1462.0 617.0M1442.4 623.5L1447.3 626.0"/>
<path class="d" style="stroke-width:2.2" d="M1467.8 620.2L1475.5 625V814L1410 777.5M1358 748.4L1292 711.6"/>
<path class="d" d="M1008 553L1112 611M1149.7 632.1L1156.5 635.9"/>
<!-- art_07.svg -->
<defs><g id="sl5"><ellipse class="k" style="fill:#fff" cx="902.4" cy="636.2" rx="35.2" ry="43.9" transform="rotate(25.0 902.4 636.2)"/><path d="M921.0 596.4L926.8 599.4L890.5 677.2L883.9 676.0z" fill="#fff" stroke="none"/><path class="k" style="fill:#fff" style="fill:none" d="M921.0 596.4L926.8 599.4M883.9 676.0L890.5 677.2"/><ellipse class="k" style="fill:#fff" cx="908.7" cy="638.3" rx="34.4" ry="42.9" transform="rotate(25.0 908.7 638.3)"/><path class="a" d="M882.0 672.3L876.8 667.1L872.9 660.5L870.4 652.8L869.6 644.4L870.4 635.7L872.7 627.0L876.5 618.8L881.7 611.4L887.9 605.2L894.8 600.5L902.3 597.4L909.9 596.2L917.2 596.8"/><ellipse class="a" cx="911.4" cy="639.6" rx="27.0" ry="36.4" transform="rotate(25.0 911.4 639.6)"/><ellipse class="k" cx="913.1" cy="640.3" rx="22.6" ry="31.9" transform="rotate(25.0 913.1 640.3)"/><path class="a" d="M926.3 609.1L930.8 612.0L934.4 616.3L936.9 621.8L938.2 628.1L938.3 634.9L937.2 642.0L934.8 649.0L931.4 655.5L927.0 661.4L921.9 666.2L916.4 669.7L910.6 671.9"/></g>
</defs><use href="#sl5"/><use href="#sl5" transform="translate(155.3 93.1)"/>
<path class="k" d="M883.6 563.5V607.5"/><path class="k" d="M1048.1 770.3V862"/>
<path class="d" style="stroke-width:2.2" d="M854.7 461.5L846.8 457.9V600L868.8 615.100"/>
<path class="d" d="M854.7 461.5L950 516.2"/>
<path class="l" d="M1004.8 546.2V571"/>
<path class="k" d="M961.4 589.5C962.5 588.4 964.1 585.3 968.0 582.9C971.8 580.6 978.1 577.6 984.3 575.6C990.6 573.5 999.1 571.3 1005.6 570.6C1012.2 570.0 1019.3 570.5 1023.7 571.5C1028.0 572.4 1027.6 573.9 1031.8 576.4C1036.1 578.8 1046.3 583.5 1049.0 586.2C1051.8 588.9 1049.5 591.0 1048.6 592.8C1047.6 594.5 1044.2 596.2 1043.3 596.9"/>
<path class="k" d="M976.1 587.9C978.3 586.6 984.1 582.4 989.3 580.5C994.4 578.6 1001.5 576.8 1007.3 576.4C1013.0 576.0 1019.8 575.3 1023.7 578.0C1027.5 580.8 1029.1 590.3 1030.2 592.8M986.0 596.0C987.9 594.7 992.8 589.8 997.4 587.9C1002.1 585.9 1008.9 583.8 1013.8 584.6C1018.7 585.4 1024.2 590.6 1026.9 592.8C1029.7 594.9 1029.7 596.9 1030.2 597.7M1007.3 600.1C1009.5 599.3 1016.0 595.5 1020.4 595.2C1024.7 594.9 1031.3 598.0 1033.5 598.5"/>
<path class="k" d="M961.4 589.5C961.7 591.1 964.1 592.2 963.0 599.3C961.9 606.4 957.6 625.5 954.8 632.1C952.1 638.6 947.8 636.5 946.7 638.6C945.6 640.8 948.8 639.2 948.3 645.2C947.8 651.2 945.6 667.0 943.4 674.7C941.2 682.3 936.6 687.2 935.2 691.1C933.8 694.9 934.6 696.0 935.2 697.6C935.7 699.3 937.6 696.5 938.5 700.9C939.3 705.3 938.7 717.8 940.1 723.8C941.5 729.8 944.2 733.9 946.7 736.9C949.1 739.9 953.5 741.0 954.8 741.8"/>
<path class="k" d="M1005.6 609.1C1011.4 605.1 1031.8 601.5 1038.4 601.0C1045.0 600.4 1043.9 599.9 1045.0 605.9C1046.0 611.9 1045.8 630.7 1045.0 637.0C1044.1 643.3 1045.8 640.8 1040.0 643.6C1034.3 646.3 1016.3 652.6 1010.6 653.4C1004.8 654.2 1006.7 653.1 1005.6 648.5C1004.5 643.8 1004.0 632.1 1004.0 625.5C1004.0 619.0 999.9 613.2 1005.6 609.1z"/>
<ellipse class="k" cx="1023.7" cy="627.2" rx="12.3" ry="17.2" transform="rotate(25.0 1023.7 627.2)"/><ellipse class="k" cx="1024.0" cy="627.5" rx="8.5" ry="13.9" transform="rotate(25.0 1024.0 627.5)"/>
<circle class="k" cx="984.3" cy="602.6" r="5.2"/><path class="a" d="M986.0 601.0C985.5 601.1 983.4 601.2 983.0 601.8C982.7 602.4 983.7 604.1 983.8 604.6"/>
<circle class="k" cx="1043.0" cy="591.1" r="4.6"/><path class="a" d="M1044.6 589.5C1044.1 589.6 1042.0 589.7 1041.7 590.3C1041.3 590.9 1042.4 592.6 1042.5 593.1"/>
<circle class="k" cx="969.9" cy="648.5" r="5.2"/><path class="a" d="M971.6 646.8C971.1 647.0 969.0 647.0 968.6 647.6C968.3 648.2 969.3 650.0 969.4 650.4"/>
<circle class="k" cx="1043.3" cy="644.4" r="4.6"/><path class="a" d="M1045.0 642.7C1044.5 642.9 1042.4 643.0 1042.0 643.6C1041.7 644.2 1042.7 645.9 1042.8 646.3"/>
<circle class="k" cx="956.5" cy="703.3" r="5.2"/><path class="a" d="M958.1 701.7C957.6 701.8 955.5 701.9 955.2 702.5C954.8 703.1 955.9 704.9 956.0 705.3"/>
<path class="k" d="M964.7 601.0L958.1 632.1M971.2 602.6L964.7 635.4M979.4 605.9L974.5 637.0M974.5 587.9L989.3 597.7M1030.2 578.0L1023.7 592.8M1036.8 599.3L1046.6 595.2M954.8 632.1L968.0 641.9M948.3 645.2L964.7 653.4"/>
<path class="k" d="M1012.2 614.1L1015.5 612.4M1035.1 607.5L1038.4 606.7M1013.8 645.2L1017.1 643.6M1035.1 637.0L1038.4 634.5M1038.4 609.1L1040.0 632.1"/>
<path class="a" d="M992.5 628.8C992.8 631.0 992.3 638.1 994.2 641.9C996.1 645.7 1000.7 649.6 1004.0 651.7C1007.3 653.9 1012.2 654.5 1013.8 655.0"/>
<ellipse class="k" style="fill:#fff" cx="1009.7" cy="696.8" rx="24.6" ry="36.9" transform="rotate(20.0 1009.7 696.8)"/><path class="k" d="M989.6 737.3L984.0 733.4L979.5 727.9L976.2 721.0L974.2 713.1L973.7 704.5L974.6 695.5L977.0 686.6L980.7 678.1L985.6 670.5L991.4 664.0L997.9 658.9L1004.8 655.5L1011.8 653.9L1018.6 654.2L1025.0 656.3"/><path class="a" d="M1030.7 674.1L1032.6 679.2L1033.5 685.2L1033.5 691.7L1032.4 698.4L1030.3 705.1L1027.4 711.5L1023.7 717.1L1019.5 721.9L1014.9 725.6L1010.1 727.9L1005.4 728.8L1000.9 728.3L997.0 726.4"/>
<path class="k" d="M981.1 678.0C980.5 682.9 976.4 698.4 977.8 707.4C979.2 716.5 987.3 727.9 989.3 732.0M1030.2 668.1L1038.4 691.1M1035.1 666.5L1043.3 687.8M1040.0 664.8L1051.5 686.1M997.4 661.6C1000.2 661.0 1007.5 658.8 1013.8 658.3C1020.1 657.8 1029.7 656.1 1035.1 658.3C1040.6 660.5 1043.9 666.8 1046.6 671.4C1049.3 676.0 1050.7 683.7 1051.5 686.1M1040.0 645.2L1043.3 664.8"/>
<path class="k" d="M971.2 655.0L997.4 673.0M974.5 651.7L995.8 666.5M951.6 689.4L963.0 684.5L961.4 696.0L951.6 689.4M954.8 664.8L946.7 691.1M964.7 664.8L956.5 689.4M974.5 674.7L968.0 704.2M981.1 671.4L979.4 684.5"/>
<path class="k" d="M941.7 704.2C943.9 705.5 952.1 709.1 954.8 712.4C957.6 715.6 957.6 721.9 958.1 723.8M948.3 723.8C949.4 724.9 952.1 728.7 954.8 730.4C957.6 732.0 963.0 733.1 964.7 733.7"/>
<path class="a" d="M946.7 696.0L938.5 701.2M930.3 706.6L920.4 713.2M912.3 718.6L902.4 725.1"/><path class="a" d="M897.8 730.4L891.0 732.3L897.5 737.8"/>
<path class="a" d="M1046.6 595.2L1054.8 599.8M1061.3 603.4L1069.5 608.3"/><path class="a" d="M1064.6 607.5L1071.5 609.1L1066.3 613.2"/><path class="a" d="M1066.3 613.2L1054.8 620.6"/>
<path class="k" style="fill:#fff" d="M1056.5 649.5L1104.1 679.4L1100.6 685.0L1052.9 655.1z"/><ellipse class="a" style="fill:#fff" cx="1054.7" cy="652.3" rx="1.5" ry="3.3" transform="rotate(32.1 1054.7 652.3)"/><path class="a" style="stroke-width:1.9" d="M1058.0 650.5L1055.5 656.7M1060.9 652.3L1058.4 658.5M1063.7 654.1L1061.2 660.3M1066.6 655.9L1064.1 662.1M1069.5 657.7L1067.0 663.9M1072.4 659.5L1069.9 665.7"/><ellipse class="k" style="fill:#fff" cx="1102.4" cy="682.2" rx="3.0" ry="6.7" transform="rotate(32.1 1102.4 682.2)"/><ellipse class="k" style="fill:#fff" cx="1102.8" cy="682.5" rx="2.7" ry="6.0" transform="rotate(32.1 1102.8 682.5)"/><path d="M1106.0 677.4L1113.2 681.9L1106.8 692.1L1099.6 687.6z" fill="#fff" stroke="none"/><path class="k" style="fill:#fff" style="fill:none" d="M1106.0 677.4L1113.2 681.9M1099.6 687.6L1106.8 692.1"/><ellipse class="k" style="fill:#fff" cx="1110.0" cy="687.0" rx="2.7" ry="6.0" transform="rotate(32.1 1110.0 687.0)"/><path class="a" d="M1111.0 684.4L1109.7 688.9"/>
<path class="l" d="M1084.2 661H1125"/>
<path class="k" d="M938.6 703.1C939.2 706.4 940.5 718.1 941.9 722.8C943.3 727.4 946.3 728.8 946.8 731.0C947.4 733.1 942.2 733.1 945.2 735.9C948.2 738.6 958.6 744.3 964.8 747.3C971.1 750.3 978.8 753.6 982.9 753.9C987.0 754.2 985.9 747.9 989.4 749.0C993.0 750.1 1000.1 758.8 1004.2 760.4C1008.3 762.1 1011.9 760.2 1014.0 758.8C1016.0 757.4 1016.7 754.4 1016.5 752.3C1016.2 750.1 1016.6 747.3 1012.4 745.7C1008.1 744.1 996.8 743.5 991.1 742.4C985.3 741.3 982.3 741.1 978.0 739.1C973.6 737.2 967.0 732.3 964.8 731.0"/>
<circle class="k" cx="956.7" cy="702.3" r="5.2"/><path class="a" d="M958.3 700.6C957.8 700.8 955.7 700.9 955.3 701.5C955.0 702.1 956.0 703.8 956.2 704.3"/>
<circle class="k" cx="968.9" cy="740.8" r="4.3"/><path class="a" d="M970.6 739.1C970.1 739.3 968.0 739.4 967.6 740.0C967.3 740.6 968.3 742.3 968.5 742.8"/>
<circle class="k" cx="1009.9" cy="753.6" r="4.9"/><path class="a" d="M1011.5 751.9C1011.0 752.1 1008.9 752.1 1008.6 752.7C1008.2 753.3 1009.3 755.1 1009.4 755.5"/>
<path class="k" d="M951.7 709.7C952.8 711.8 954.5 719.2 958.3 722.8C962.1 726.3 969.5 728.2 974.7 731.0C979.9 733.7 987.0 737.8 989.4 739.1M966.5 694.9C967.3 698.2 968.4 708.6 971.4 714.6C974.4 720.6 979.0 727.1 984.5 731.0C990.0 734.8 998.4 736.4 1004.2 737.5C1009.9 738.6 1016.5 737.5 1018.9 737.5M981.2 703.1C982.3 706.4 984.5 718.1 987.8 722.8C991.1 727.4 996.0 730.1 1000.9 731.0C1005.8 731.8 1014.5 728.2 1017.3 727.7"/>
<circle class="k" style="fill:#fff" cx="933.4" cy="759.6" r="8.2"/><path class="a" d="M937.0 756.3C935.9 756.3 931.7 755.3 930.4 756.3C929.2 757.4 928.9 761.7 929.6 762.9C930.3 764.1 933.7 763.6 934.5 763.7"/><path class="l" d="M901.0 759.6L924.7 759.6"/>
<path class="a" d="M943.6 694.9L933.7 702.3M923.9 709.7L914.1 717.0M904.2 724.4L896.9 730.1"/><path class="a" d="M896.9 729.8L891.1 733.7L897.4 737.8"/><path class="a" d="M897.4 737.8L907.5 744.1M912.4 747.0L920.9 751.9"/>
<path class="d" style="stroke-dasharray:6 4;stroke-width:2.2" d="M983.2 753.9V806L989 811"/>
<path class="k" style="fill:#fff" d="M991.2 808.4L1035.8 837.8L1032.2 843.3L987.6 814.0z"/><ellipse class="a" style="fill:#fff" cx="989.4" cy="811.2" rx="1.5" ry="3.3" transform="rotate(33.4 989.4 811.2)"/><path class="a" style="stroke-width:1.9" d="M992.7 809.4L990.1 815.6M995.6 811.3L992.9 817.5M998.4 813.2L995.8 819.3M1001.2 815.0L998.6 821.2M1004.1 816.9L1001.5 823.1M1006.9 818.8L1004.3 825.0"/><ellipse class="k" style="fill:#fff" cx="1034.0" cy="840.6" rx="3.0" ry="6.7" transform="rotate(33.4 1034.0 840.6)"/><ellipse class="k" style="fill:#fff" cx="1034.4" cy="840.8" rx="2.7" ry="6.0" transform="rotate(33.4 1034.4 840.8)"/><path d="M1037.7 835.8L1044.8 840.5L1038.2 850.5L1031.1 845.8z" fill="#fff" stroke="none"/><path class="k" style="fill:#fff" style="fill:none" d="M1037.7 835.8L1044.8 840.5M1031.1 845.8L1038.2 850.5"/><ellipse class="k" style="fill:#fff" cx="1041.5" cy="845.5" rx="2.7" ry="6.0" transform="rotate(33.4 1041.5 845.5)"/><path class="a" d="M1042.6 843.0L1041.2 847.4"/>
<path class="l" d="M978 831.2H1007.4"/>
<ellipse class="k" style="fill:#fff" cx="1118.6" cy="763.7" rx="31.9" ry="45.1" transform="rotate(25.0 1118.6 763.7)"/><path d="M1137.7 722.9L1141.8 723.7L1103.7 805.3L1099.6 804.5z" fill="#fff" stroke="none"/><path class="k" style="fill:#fff" style="fill:none" d="M1137.7 722.9L1141.8 723.7M1099.6 804.5L1103.7 805.3"/><ellipse class="k" style="fill:#fff" cx="1122.7" cy="764.5" rx="31.9" ry="45.1" transform="rotate(25.0 1122.7 764.5)"/><ellipse class="k" cx="1123.2" cy="764.5" rx="18.0" ry="29.5" transform="rotate(25.0 1123.2 764.5)"/><path class="a" d="M1138.3 730.8L1142.9 733.9L1146.4 738.6L1148.8 744.5L1149.9 751.5L1149.6 759.0L1147.9 766.9L1145.0 774.6"/><path class="a" d="M1100.4 785.9L1098.7 780.3L1098.2 774.0L1098.8 767.2L1100.5 760.3L1103.3 753.5L1107.0 747.3L1111.5 741.8L1116.5 737.5"/>
<path class="l" d="M1138.3 720.3L1143.2 703.9H1171"/>
<path class="k" style="fill:#fff" d="M1170.3 761.1C1176.3 758.4 1185.8 766.0 1191.6 766.0C1197.3 766.0 1201.1 763.6 1204.7 761.1C1208.2 758.7 1211.5 755.1 1212.9 751.3C1214.2 747.5 1211.5 741.3 1212.9 738.2C1214.2 735.1 1215.9 733.3 1221.1 732.5C1226.2 731.6 1239.5 732.0 1244.0 733.3C1248.5 734.5 1246.7 734.6 1248.1 739.8C1249.5 745.0 1249.6 759.6 1252.2 764.4C1254.8 769.2 1260.1 768.4 1263.7 768.5C1267.2 768.6 1271.3 762.6 1273.5 765.2C1275.7 767.8 1278.9 777.9 1276.8 784.1C1274.6 790.2 1264.5 798.5 1260.4 802.1C1256.3 805.6 1256.0 798.3 1252.2 805.4C1248.4 812.5 1243.3 834.6 1237.4 844.7C1231.6 854.8 1221.6 860.5 1217.0 866.0C1212.3 871.4 1211.6 873.1 1209.6 877.4C1207.5 881.8 1208.2 889.5 1204.7 892.2C1201.1 894.9 1192.1 894.6 1188.3 893.8C1184.5 893.0 1183.0 890.3 1181.7 887.3C1180.5 884.3 1182.0 879.6 1180.9 875.8C1179.8 872.0 1180.5 866.0 1175.2 864.3C1169.9 862.7 1154.7 867.6 1149.0 866.0C1143.2 864.3 1142.4 858.1 1140.8 854.5C1139.1 851.0 1135.1 848.0 1139.1 844.7C1143.2 841.4 1162.6 838.7 1165.4 834.8C1168.1 831.0 1157.7 826.9 1155.5 821.7C1153.3 816.6 1152.3 810.3 1152.3 803.7C1152.3 797.2 1152.5 789.5 1155.5 782.4C1158.5 775.3 1164.3 763.9 1170.3 761.1z"/>
<path class="a" d="M1175.2 762.8C1172.7 766.3 1163.2 777.5 1160.4 784.1C1157.7 790.6 1158.3 795.8 1158.8 802.1C1159.4 808.4 1162.9 818.5 1163.7 821.7M1144.1 843.0L1145.7 856.1M1191.6 766.0C1193.8 765.5 1201.3 764.1 1204.7 762.8C1208.1 761.4 1210.8 758.7 1212.1 757.9M1168.6 836.5L1175.2 864.3M1181.7 866.0L1185.0 887.3"/>
<path class="k" d="M1238.3 741.5C1237.2 741.5 1233.1 740.5 1231.7 741.5C1230.3 742.4 1229.7 745.6 1230.1 747.2C1230.5 748.8 1233.5 750.2 1234.2 750.8"/>
<path class="k" d="M1180.9 775.1C1179.8 775.1 1175.7 774.1 1174.4 775.1C1173.0 776.0 1172.3 779.2 1172.7 780.8C1173.1 782.3 1176.1 783.8 1176.8 784.4"/>
<path class="k" d="M1269.4 775.1C1268.3 775.1 1264.2 774.1 1262.8 775.1C1261.5 776.0 1260.8 779.2 1261.2 780.8C1261.6 782.3 1264.6 783.8 1265.3 784.4"/>
<path class="k" d="M1162.9 844.7C1161.8 844.7 1157.7 843.7 1156.3 844.7C1155.0 845.6 1154.3 848.9 1154.7 850.4C1155.1 852.0 1158.1 853.4 1158.8 854.0"/>
<path class="k" d="M1201.4 875.8C1200.3 875.8 1196.2 874.9 1194.8 875.8C1193.5 876.8 1192.8 880.0 1193.2 881.5C1193.6 883.1 1196.6 884.5 1197.3 885.1"/>
<ellipse class="k" style="fill:#fff" cx="1215.3" cy="817.6" rx="36.9" ry="50.0" transform="rotate(25.0 1215.3 817.6)"/><ellipse class="a" cx="1214.5" cy="816.8" rx="31.9" ry="45.1" transform="rotate(25.0 1214.5 816.8)"/>
<ellipse class="k" style="fill:#fff" cx="1212.1" cy="813.6" rx="22.1" ry="37.7" transform="rotate(25.0 1212.1 813.6)"/>
<path class="a" d="M1202.7 795.5L1226.0 782.4"/>
<path class="a" d="M1201.7 802.1L1225.5 789.3"/>
<path class="a" d="M1200.7 808.6L1225.0 796.2"/>
<path class="a" d="M1199.8 815.2L1224.5 803.1"/>
<path class="a" d="M1198.8 821.7L1224.0 809.9"/>
<path class="a" d="M1197.8 828.3L1223.5 816.8"/>
<path class="a" d="M1196.8 834.8L1223.0 823.7"/>
<path class="a" d="M1195.8 841.4L1222.5 830.6"/>
<path class="a" d="M1194.8 848.0L1222.0 837.5"/>
<path class="k" d="M1230.9 779.1C1231.7 782.4 1235.8 790.6 1235.8 798.8C1235.8 807.0 1234.4 820.1 1230.9 828.3C1227.3 836.5 1217.2 844.7 1214.5 848.0M1237.4 784.1C1238.0 787.3 1241.3 795.8 1240.7 803.7C1240.2 811.6 1237.7 823.7 1234.2 831.6C1230.6 839.5 1221.9 848.0 1219.4 851.2M1188.3 843.0C1190.5 844.7 1195.9 850.4 1201.4 852.9C1206.9 855.3 1216.7 857.5 1221.1 857.8C1225.4 858.1 1226.5 855.1 1227.6 854.5"/>
<path class="k" d="M1191.6 800.4L1196.5 798.8M1186.7 836.5L1189.9 838.1M1194.8 851.2L1201.4 850.4M1209.6 854.5L1216.1 852.9M1242.4 785.7L1247.3 784.1M1247.3 792.3L1252.2 791.4"/>
<ellipse class="k" style="fill:#fff" cx="1260.4" cy="843.0" rx="29.5" ry="36.9" transform="rotate(22.0 1260.4 843.0)"/><path d="M1274.2 808.9L1279.5 810.3L1252.7 876.5L1246.6 877.2z" fill="#fff" stroke="none"/><path class="k" style="fill:#fff" style="fill:none" d="M1274.2 808.9L1279.5 810.3M1246.6 877.2L1252.7 876.5"/><ellipse class="k" style="fill:#fff" cx="1266.1" cy="843.4" rx="28.7" ry="35.7" transform="rotate(22.0 1266.1 843.4)"/><path class="k" d="M1242.4 848.0L1255.5 825.0L1283.3 816.8L1292.3 834.8L1278.4 859.4L1252.2 869.3z"/><ellipse class="k" style="fill:#fff" cx="1271.8" cy="844.7" rx="15.1" ry="22.1" transform="rotate(22.0 1271.8 844.7)"/><path class="k" style="stroke-width:3.4" d="M1282.9 826.9L1285.0 829.0L1286.5 831.8L1287.5 835.2L1287.8 839.1L1287.4 843.2L1286.5 847.3L1284.9 851.3L1282.8 855.1L1280.3 858.4L1277.4 861.0L1274.4 862.9L1271.3 864.1L1268.3 864.3L1265.5 863.7"/><path class="k" d="M1255.5 825.0L1253.8 851.2L1252.2 869.3M1242.4 848.0L1253.8 851.2"/>
<ellipse class="k" style="fill:#fff" cx="1310.3" cy="875.0" rx="22.9" ry="30.3" transform="rotate(22.0 1310.3 875.0)"/><path d="M1321.7 846.9L1328.9 844.9L1306.6 900.2L1299.0 903.1z" fill="#fff" stroke="none"/><path class="k" style="fill:#fff" style="fill:none" d="M1321.7 846.9L1328.9 844.9M1299.0 903.1L1306.6 900.2"/><ellipse class="k" style="fill:#fff" cx="1317.7" cy="872.5" rx="22.6" ry="29.8" transform="rotate(22.0 1317.7 872.5)"/><path class="a" d="M1298.9 900.1L1295.1 896.6L1292.2 892.0L1290.4 886.6L1289.6 880.6L1290.0 874.3L1291.5 868.0L1294.0 862.0L1297.5 856.6L1301.7 852.0L1306.5 848.4L1311.7 846.1L1316.9 845.1"/><ellipse class="k" cx="1321.0" cy="875.0" rx="6.9" ry="9.0" transform="rotate(22.0 1321.0 875.0)"/><ellipse class="a" cx="1321.3" cy="875.3" rx="3.6" ry="5.2" transform="rotate(22.0 1321.3 875.3)"/><path class="a" d="M1319.4 892.6L1316.2 893.1L1313.0 892.8L1310.2 891.5L1307.9 889.3L1306.1 886.5L1304.9 883.0L1304.5 879.1L1304.8 874.9L1305.8 870.7L1307.5 866.7L1309.7 863.0"/><path class="a" d="M1325.2 852.2L1329.0 853.4L1332.2 855.8L1334.7 859.4L1336.3 863.8L1336.8 868.8"/>
<path class="k" d="M1320.7 798.8V843"/>
<path class="k" style="fill:#fff" d="M1133.3 844.2L1105.5 827.0L1108.8 821.5L1136.7 838.8z"/><ellipse class="a" style="fill:#fff" cx="1135.0" cy="841.5" rx="1.4" ry="3.2" transform="rotate(-148.2 1135.0 841.5)"/><path class="a" style="stroke-width:1.9" d="M1131.8 843.3L1134.1 837.2M1128.9 841.5L1131.2 835.4M1126.0 839.7L1128.4 833.6M1123.1 837.9L1125.5 831.8M1120.2 836.1L1122.6 830.0M1117.3 834.3L1119.7 828.2"/><ellipse class="k" style="fill:#fff" cx="1107.2" cy="824.2" rx="4.0" ry="9.0" transform="rotate(-148.2 1107.2 824.2)"/><ellipse class="k" style="fill:#fff" cx="1106.7" cy="824.0" rx="3.6" ry="8.0" transform="rotate(-148.2 1106.7 824.0)"/><path d="M1102.5 830.8L1095.3 826.3L1103.7 812.7L1110.9 817.2z" fill="#fff" stroke="none"/><path class="k" style="fill:#fff" style="fill:none" d="M1102.5 830.8L1095.3 826.3M1110.9 817.2L1103.7 812.7"/><ellipse class="k" style="fill:#fff" cx="1099.5" cy="819.5" rx="3.6" ry="8.0" transform="rotate(-148.2 1099.5 819.5)"/><path class="a" d="M1098.0 822.8L1100.1 817.0"/>
<path class="k" d="M1131 843V922.6"/><path class="l" d="M1217.8 866V975H1130.7V968M1176.2 975V984"/><path class="k" d="M1253.8 879V922.6"/>
<ellipse class="k" style="fill:#fff" cx="1373.7" cy="905.2" rx="33.6" ry="45.1" transform="rotate(35.0 1373.7 905.2)"/><path class="a" d="M1343.9 941.1L1339.0 935.2L1335.8 927.8L1334.4 919.3L1334.9 910.2L1337.3 900.8L1341.4 891.7L1347.1 883.3L1354.1 876.1L1362.0 870.4L1370.4 866.5L1378.8 864.6L1387.0 864.7"/><path class="k" d="M1392.4 916.9C1391.4 918.5 1388.6 918.9 1387.2 920.6C1385.9 922.3 1385.6 925.6 1384.3 926.9C1382.9 928.2 1380.7 927.2 1379.1 928.4C1377.5 929.5 1376.2 933.1 1374.7 933.8C1373.3 934.6 1372.0 932.3 1370.4 932.7C1368.8 933.2 1366.6 936.4 1365.2 936.5C1363.9 936.5 1363.7 933.4 1362.4 933.1C1361.0 932.7 1358.3 935.1 1357.2 934.5C1356.2 933.9 1357.2 930.3 1356.3 929.2C1355.4 928.2 1352.5 929.4 1351.9 928.2C1351.4 926.9 1353.3 923.5 1353.0 921.9C1352.7 920.3 1350.2 920.1 1350.2 918.5C1350.2 916.8 1352.8 914.1 1353.1 912.1C1353.5 910.2 1351.6 908.7 1352.2 906.9C1352.8 905.1 1355.7 903.4 1356.6 901.4C1357.5 899.5 1356.6 896.8 1357.7 895.2C1358.7 893.5 1361.5 893.1 1362.8 891.4C1364.2 889.8 1364.4 886.4 1365.8 885.1C1367.2 883.8 1369.3 884.8 1370.9 883.6C1372.5 882.5 1373.9 878.9 1375.3 878.2C1376.8 877.5 1378.1 879.7 1379.7 879.3C1381.2 878.8 1383.5 875.6 1384.8 875.5C1386.2 875.5 1386.4 878.6 1387.7 879.0C1389.0 879.3 1391.8 876.9 1392.8 877.5C1393.8 878.2 1392.9 881.7 1393.8 882.8C1394.7 883.8 1397.6 882.6 1398.1 883.8C1398.7 885.1 1396.7 888.5 1397.0 890.1C1397.3 891.7 1399.9 891.9 1399.9 893.5C1399.9 895.2 1397.3 898.0 1396.9 899.9C1396.6 901.8 1398.5 903.4 1397.9 905.1C1397.3 906.9 1394.4 908.6 1393.5 910.6C1392.6 912.5 1393.4 915.2 1392.4 916.9z"/><path class="k" d="M1404.8 903.6L1408.1 902.7M1401.6 916.7L1404.8 915.0M1345.9 897.0L1349.1 898.6M1342.6 908.5L1345.1 910.1"/>
<path class="k" d="M1362.3 946V996"/>
<ellipse class="k" style="fill:#fff" cx="1420.4" cy="912.6" rx="6.2" ry="8.2" transform="rotate(-30.0 1420.4 912.6)"/><ellipse class="a" cx="1420.4" cy="912.6" rx="2.5" ry="4.1" transform="rotate(-30.0 1420.4 912.6)"/>
<path class="l" d="M1422.1 919.9C1423.6 923.5 1428.7 935.5 1431.1 941.2C1433.4 947.0 1435.2 950.0 1436.0 954.3C1436.8 958.7 1436.0 965.3 1436.0 967.4"/>
<path class="k" style="fill:#fff" d="M1429.0 912.6L1445.9 923.5L1442.8 928.2L1426.0 917.4z"/><ellipse class="a" style="fill:#fff" cx="1427.5" cy="915.0" rx="1.3" ry="2.8" transform="rotate(32.9 1427.5 915.0)"/><path class="a" style="stroke-width:1.9" d="M1430.5 913.6L1428.5 919.0M1433.4 915.5L1431.4 920.8M1436.2 917.3L1434.2 922.7M1439.1 919.2L1437.1 924.5M1442.0 921.0L1439.9 926.4"/><ellipse class="k" style="fill:#fff" cx="1444.4" cy="925.9" rx="2.8" ry="6.2" transform="rotate(32.9 1444.4 925.9)"/><ellipse class="k" style="fill:#fff" cx="1444.8" cy="926.2" rx="2.5" ry="5.5" transform="rotate(32.9 1444.8 926.2)"/><path d="M1447.8 921.5L1454.5 925.9L1448.5 935.1L1441.8 930.8z" fill="#fff" stroke="none"/><path class="k" style="fill:#fff" style="fill:none" d="M1447.8 921.5L1454.5 925.9M1441.8 930.8L1448.5 935.1"/><ellipse class="k" style="fill:#fff" cx="1451.5" cy="930.5" rx="2.5" ry="5.5" transform="rotate(32.9 1451.5 930.5)"/><path class="a" d="M1452.4 928.1L1451.3 932.3"/>
<path class="k" d="M1441.7 856.4V915"/>
<!-- art_08.svg -->
<path class="a" d="M569.4 440.6C580.4 439.3 611.8 436.6 635.4 432.5C658.9 428.5 688.8 422.0 710.7 416.5C732.7 411.0 749.8 405.3 767.3 399.6C784.7 393.9 807.3 385.1 815.3 382.2L812.5 377.0L837.9 371.7L821.9 392.0L820.0 388.3L820.0 388.3C811.2 391.6 785.5 401.9 767.3 408.0C749.1 414.2 732.7 419.2 710.7 425.0C688.8 430.8 658.5 438.0 635.4 442.9C612.3 447.8 582.8 452.3 572.2 454.2z"/>
<path class="d" style="stroke-width:2.2" d="M557.2 731L584.2 747.3"/>
<ellipse class="k" style="fill:#fff" cx="594.9" cy="753.9" rx="11.5" ry="12.8" transform="rotate(15.0 594.9 753.9)"/><path d="M598.2 741.5L603.0 743.7L596.6 767.4L591.6 766.2z" fill="#fff" stroke="none"/><path class="k" style="fill:#fff" style="fill:none" d="M598.2 741.5L603.0 743.7M591.6 766.2L596.6 767.4"/><ellipse class="k" style="fill:#fff" cx="599.8" cy="755.5" rx="11.5" ry="12.3" transform="rotate(15.0 599.8 755.5)"/><ellipse class="a" cx="600.9" cy="756.0" rx="7.4" ry="8.2" transform="rotate(15.0 600.9 756.0)"/><path class="k" d="M604.7 753.1C603.6 753.1 599.4 752.0 598.2 753.1C596.9 754.2 596.5 758.4 597.3 759.6C598.2 760.9 602.1 760.3 603.1 760.4"/><path class="a" d="M594.1 752.3L593.2 760.4"/>
<path class="l" d="M596.5 740.8L604.7 695.7L630.1 695.7"/>
<path class="k" style="fill:#fff" d="M618.6 767.0C619.5 761.0 620.8 762.5 625.2 760.4C629.6 758.4 640.2 755.5 644.8 754.7C649.5 753.9 651.3 753.5 653.0 755.5C654.8 757.6 655.2 761.5 655.5 767.0C655.8 772.5 657.5 782.6 654.7 788.3C651.8 794.0 642.9 798.7 638.3 801.4C633.7 804.1 629.8 805.5 626.8 804.7C623.8 803.9 621.6 802.8 620.3 796.5C618.9 790.2 617.8 773.0 618.6 767.0z"/>
<path class="a" d="M631.7 775.2C632.8 774.4 635.8 771.0 638.3 770.3C640.8 769.6 645.4 769.2 646.5 771.1C647.6 773.0 646.5 778.6 644.8 781.7C643.2 784.9 639.0 789.1 636.7 789.9C634.3 790.8 631.9 787.2 630.9 786.7"/><path class="k" d="M626.8 771.1L627.6 773.6M646.5 760.4L647.3 762.9M627.6 794.8L628.5 797.3"/>
<path class="k" style="fill:#fff" d="M639.9 781.7C640.6 776.3 640.2 778.1 644.8 775.2C649.5 772.3 662.6 766.2 667.8 764.5C673.0 762.9 674.1 763.6 676.0 765.4C677.9 767.1 678.7 770.0 679.3 775.2C679.8 780.4 680.1 791.8 679.3 796.5C678.4 801.1 679.0 799.6 674.3 803.0C669.7 806.5 656.3 814.6 651.4 817.0C646.5 819.3 646.6 818.5 644.8 817.0C643.1 815.5 641.6 813.8 640.8 808.0C639.9 802.1 639.3 787.2 639.9 781.7z"/>
<path class="a" d="M644.8 784.2C645.4 780.0 645.3 781.6 648.9 779.3C652.6 777.0 662.9 771.6 667.0 770.3C671.1 768.9 672.1 769.7 673.5 771.1C675.0 772.5 675.4 774.5 675.6 778.5C675.9 782.4 675.9 791.2 675.2 794.8C674.4 798.5 674.7 797.9 671.1 800.6C667.4 803.3 656.9 809.5 653.0 811.2C649.2 813.0 649.4 812.3 648.1 811.2C646.9 810.1 646.2 809.2 645.7 804.7C645.1 800.2 644.3 788.4 644.8 784.2z"/>
<ellipse class="k" cx="662.1" cy="790.8" rx="10.2" ry="11.8" transform="rotate(20.0 662.1 790.8)"/><ellipse class="k" cx="661.6" cy="791.2" rx="6.6" ry="8.5" transform="rotate(20.0 661.6 791.2)"/><path class="a" d="M658.0 788.3C657.8 789.4 656.6 793.1 657.1 794.8C657.7 796.6 660.5 798.3 661.2 798.9"/>
<path class="k" d="M648.1 786.7L649.8 788.3M669.4 771.9L671.1 773.9M648.9 804.7L650.6 806.6M671.1 796.5L673.0 794.8"/>
<path class="k" d="M666.1 737.5V764.5"/><path class="k" d="M629.8 804.7V833.3"/>
<path class="a" d="M680.9 780.9L688.3 785.0M693.2 787.8L701.4 792.4"/>
<path class="k" style="fill:#fff" d="M704.0 790.1L720.8 800.4L717.9 805.2L701.0 794.9z"/><ellipse class="a" style="fill:#fff" cx="702.5" cy="792.5" rx="1.3" ry="2.8" transform="rotate(31.5 702.5 792.5)"/><path class="a" style="stroke-width:1.9" d="M705.5 791.1L703.6 796.5M708.4 792.8L706.5 798.2M711.3 794.6L709.4 800.0M714.2 796.4L712.3 801.8M717.1 798.2L715.2 803.6"/><ellipse class="k" style="fill:#fff" cx="719.3" cy="802.8" rx="2.8" ry="6.3" transform="rotate(31.5 719.3 802.8)"/><ellipse class="k" style="fill:#fff" cx="719.8" cy="803.1" rx="2.5" ry="5.6" transform="rotate(31.5 719.8 803.1)"/><path d="M722.7 798.3L729.9 802.7L724.1 812.3L716.8 807.8z" fill="#fff" stroke="none"/><path class="k" style="fill:#fff" style="fill:none" d="M722.7 798.3L729.9 802.7M716.8 807.8L724.1 812.3"/><ellipse class="k" style="fill:#fff" cx="727.0" cy="807.5" rx="2.5" ry="5.6" transform="rotate(31.5 727.0 807.5)"/><path class="a" d="M727.9 805.1L726.8 809.4"/>
<path class="k" d="M714.5 812V858.700"/>
<ellipse class="k" style="fill:#fff;stroke-width:3" cx="589.8" cy="912.8" rx="29.2" ry="41.0" transform="rotate(30.0 589.8 912.8)"/><ellipse class="k" style="fill:#fff;stroke-width:3" cx="589.8" cy="912.8" rx="24.6" ry="35.7" transform="rotate(30.0 589.8 912.8)"/>
<path class="k" d="M571.8 950.9V996"/>
<ellipse class="k" style="fill:#fff" cx="647.1" cy="948.5" rx="35.2" ry="47.8" transform="rotate(30.0 647.1 948.5)"/><ellipse class="k" style="fill:#fff" cx="660.7" cy="956.3" rx="23.3" ry="33.6" transform="rotate(28.0 660.7 956.3)"/><path class="a" d="M625.4 986.3L620.7 981.5L617.3 975.3L615.3 968.0L614.9 959.8L616.0 951.2L618.6 942.6L622.6 934.2L627.9 926.6L634.1 920.0L640.9 914.7L648.2 911.0L655.6 909.0L662.6 908.9L669.1 910.5"/><path class="a" d="M630.4 978.8L627.9 973.2L626.7 966.7L626.8 959.4L628.4 951.8L631.2 944.3L635.1 937.1L640.0 930.8L645.7 925.4L651.7 921.5L657.9 919.0L664.0 918.2"/><path class="k" style="stroke-width:3.4" d="M676.0 910.7L680.8 916.8L684.1 924.4L685.8 933.0L685.6 942.4L683.6 952.1L680.0 961.5L674.9 970.4L668.5 978.3L661.1 984.8L653.1 989.6L644.8 992.6L636.6 993.5L628.9 992.3"/><path class="a" d="M642.1 974.6L641.0 969.7L640.9 964.2L641.8 958.4L643.8 952.5L646.6 946.8L650.1 941.6L654.3 937.2L658.8 933.7L663.4 931.4L668.0 930.3L672.3 930.6"/><path class="k" d="M661.1 919.0L664.3 917.3M639.8 932.1L643.0 929.6M628.3 971.4L631.6 968.1M649.6 986.1L652.1 982.1M679.1 928.8L681.5 932.9"/>
<path class="k" style="stroke-width:3" d="M664.3 981.2V1020.5"/>
<path class="k" style="fill:#fff" d="M703.7 939.2L720.9 951.9L717.6 956.4L700.3 943.8z"/><ellipse class="a" style="fill:#fff" cx="702.0" cy="941.5" rx="1.3" ry="2.8" transform="rotate(36.3 702.0 941.5)"/><path class="a" style="stroke-width:1.9" d="M705.1 940.3L702.8 945.5M707.8 942.3L705.5 947.5M710.6 944.3L708.2 949.6M713.3 946.3L711.0 951.6M716.1 948.4L713.7 953.6"/><ellipse class="k" style="fill:#fff" cx="719.2" cy="954.2" rx="2.9" ry="6.5" transform="rotate(36.3 719.2 954.2)"/><ellipse class="k" style="fill:#fff" cx="719.7" cy="954.5" rx="2.6" ry="5.8" transform="rotate(36.3 719.7 954.5)"/><path d="M723.1 949.8L729.9 954.8L723.1 964.2L716.2 959.1z" fill="#fff" stroke="none"/><path class="k" style="fill:#fff" style="fill:none" d="M723.1 949.8L729.9 954.8M716.2 959.1L723.1 964.2"/><ellipse class="k" style="fill:#fff" cx="726.5" cy="959.5" rx="2.6" ry="5.8" transform="rotate(36.3 726.5 959.5)"/><path class="a" d="M727.6 957.1L726.1 961.4"/>
<path class="l" d="M715.1 943.6L739.7 894.7L752.0 894.7"/>
<rect x="903.4" y="915.3" width="107" height="109.5" fill="none" stroke="#000" stroke-width="2.2"/>
<path class="a" style="stroke-width:2.2" d="M926.3 943.9V930.6H949.6V943.9M938.4 930.6V943.9M920.3 943.9H957.5V951.6H920.3zM932.7 951.6V994.9H945.4V951.6M932.7 971.3H945.4M932.7 978.3H945.4M932.7 983.4H945.4M932.7 989.2H945.4"/>
<path class="l" d="M959.4 951.3H986.8M953 995.2H988.7M977 951.6V994.9"/><path class="f" d="M977 952l-2.500 9h5zM977 994.5l-2.500-9h5z"/>
<path class="k" d="M989.9 965.6V979.3H998.3"/>
<path class="a" style="stroke-width:2.3" d="M72.3 735.2L420.2 731.4L423.6 1027L74 1030.4z"/>
<path class="a" d="M87.1 784.6C91.8 787.4 108.9 795.2 115.5 801.2C122.1 807.2 123.4 813.5 126.9 820.5C130.3 827.5 132.5 837.6 136.0 843.3C139.4 848.9 143.9 852.4 147.3 854.6C150.7 856.9 137.8 852.7 156.4 856.9C175.0 861.1 239.4 875.1 258.8 879.7C278.1 884.2 269.0 881.2 272.4 884.2C275.8 887.2 277.3 892.9 279.2 897.8C281.1 902.8 281.5 908.8 283.8 913.8C286.1 918.7 290.6 924.8 292.9 927.4C295.2 930.1 296.7 929.3 297.4 929.7"/>
<path class="a" d="M84.8 792.1C89.3 794.7 105.8 802.1 112.1 808.0C118.3 813.9 119.1 820.5 122.3 827.3C125.5 834.2 128.0 843.5 131.4 848.9C134.8 854.4 139.6 858.1 142.8 860.3C146.0 862.5 149.4 861.8 150.7 862.1"/>
<path class="d" style="stroke-dasharray:7 4;stroke-width:1.8" d="M156.4 864.9C169.3 867.7 215.9 878.1 233.7 881.9C251.6 885.7 257.2 885.0 263.3 887.6C269.4 890.3 268.2 892.7 270.1 897.8C272.0 903.0 272.4 912.8 274.7 918.3C277.0 923.8 280.4 927.8 283.8 930.8C287.2 933.9 293.3 935.6 295.2 936.5"/>
<path class="d" style="stroke-dasharray:7 4;stroke-width:1.8" d="M124.6 816.0C126.3 820.0 131.4 833.8 134.8 839.9C138.2 845.9 143.3 850.3 145.1 852.4"/>
<circle class="a" cx="154.6" cy="829.2" r="10.4" style="fill:#fff;stroke-width:2.8"/><text x="149.1" y="835.0" font-size="16" font-weight="bold" textLength="11" lengthAdjust="spacingAndGlyphs">B</text>
<circle class="a" cx="211.5" cy="845.1" r="10.4" style="fill:#fff;stroke-width:2.8"/><text x="206.0" y="850.9" font-size="16" font-weight="bold" textLength="11" lengthAdjust="spacingAndGlyphs">B</text>
<path class="k" d="M154.1 841V904.7"/><path class="l" d="M219 852.4L236 860.3H262.2"/><path class="k" d="M186 775V804.6"/><path class="l" d="M309.9 800V810.3L249.7 831.4"/>
<path class="a" d="M167.8 823.2L176.9 820.1M222.4 838.0L230.3 835.3"/>
<path class="d" style="stroke-dasharray:6 3;stroke-width:3" d="M188.7 836.4V856"/><path class="d" style="stroke-dasharray:5 3;stroke-width:1.8" d="M241 849V875"/>
<path class="k" style="fill:#fff" d="M179.6 805.7C181.8 803.1 190.2 804.4 193.3 804.6C196.3 804.8 197.1 804.2 197.8 806.9C198.6 809.5 197.1 817.7 197.8 820.5C198.5 823.4 201.7 822.1 201.9 823.9C202.1 825.8 201.9 830.6 199.0 831.4C196.0 832.3 187.3 831.0 184.2 829.2C181.0 827.3 180.8 824.4 180.1 820.5C179.3 816.6 177.4 808.4 179.6 805.7z"/><path class="k" d="M189.9 827.3C189.9 824.9 190.8 815.2 189.9 812.6C188.9 809.9 185.5 810.9 184.2 811.4C182.8 812.0 182.3 815.2 181.9 816.0"/><path class="a" d="M193.7 806.9L193.7 827.3"/><path class="k" style="fill:#fff" d="M230.3 822.1C232.5 819.5 240.9 820.8 244.0 821.0C247.0 821.2 247.8 820.6 248.5 823.2C249.3 825.9 247.8 834.1 248.5 836.9C249.2 839.7 252.4 838.5 252.6 840.3C252.8 842.1 252.6 846.9 249.7 847.8C246.7 848.7 238.0 847.4 234.9 845.5C231.7 843.7 231.5 840.8 230.8 836.9C230.0 833.0 228.1 824.8 230.3 822.1z"/><path class="k" d="M240.6 843.7C240.6 841.3 241.5 831.6 240.6 828.9C239.6 826.3 236.2 827.2 234.9 827.8C233.6 828.4 233.0 831.6 232.6 832.3"/><path class="a" d="M244.4 823.2L244.4 843.7"/>
<path class="t" d="M267.3 755.5V761"/>
<path class="a" d="M284.9 914.9C284.9 913.7 284.2 909.9 284.9 907.7C285.7 905.5 287.1 903.1 289.3 901.8C291.5 900.6 295.4 900.1 298.1 900.4C300.7 900.6 303.2 901.6 305.3 903.3C307.5 905.0 309.7 908.2 311.2 910.6C312.6 913.0 313.6 916.6 314.1 917.9"/>
<path class="d" style="stroke-dasharray:5 3;stroke-width:1.8" d="M314.1 917.9C314.7 919.1 316.5 922.7 317.7 925.1C318.9 927.6 320.7 931.2 321.4 932.4"/>
<path class="a" d="M321.4 932.4C321.8 933.6 322.6 937.5 324.3 939.7C326.0 941.9 328.2 943.3 331.5 945.5C334.9 947.7 340.8 951.2 344.7 952.8C348.5 954.4 352.2 953.8 354.8 955.0C357.5 956.2 359.9 958.3 360.7 960.1C361.4 961.9 359.9 964.5 359.2 965.9C358.5 967.4 356.8 968.3 356.3 968.8"/>
<path class="a" d="M284.9 914.9C286.6 915.3 293.2 912.3 295.1 917.1C297.1 922.0 295.6 938.6 296.6 944.1C297.6 949.5 299.5 948.2 301.0 949.9C302.4 951.6 304.6 951.8 305.3 954.3C306.1 956.7 305.6 959.9 305.3 964.5C305.1 969.1 304.9 978.5 303.9 981.9C302.9 985.3 301.0 985.3 299.5 984.8C298.1 984.4 296.6 981.5 295.1 979.0C293.7 976.6 291.7 972.2 290.8 970.3C289.8 968.3 289.2 969.2 289.3 967.4C289.4 965.6 293.9 962.2 291.5 959.4C289.1 956.6 277.5 952.1 274.8 950.6"/>
<path class="a" d="M282.0 943.3C284.0 944.2 291.0 948.0 293.7 948.4C296.4 948.9 297.3 946.6 298.1 946.3M299.5 984.8C299.1 987.3 297.4 994.2 297.3 999.4C297.2 1004.6 298.5 1013.4 298.8 1016.2M292.2 904.8C293.2 904.9 296.6 905.6 298.1 905.5C299.5 905.4 300.5 904.3 301.0 904.0M283.5 913.5C284.0 915.4 284.5 922.1 286.4 925.1C288.3 928.2 293.7 930.6 295.1 931.7M295.1 967.4L296.6 979.0"/>
<path class="a" d="M356.3 968.8C353.6 969.6 344.0 971.3 340.3 973.2C336.5 975.1 334.8 976.6 333.7 980.5C332.6 984.4 332.9 992.9 333.7 996.5C334.6 1000.1 336.3 1001.8 338.8 1002.3C341.4 1002.8 345.9 1001.4 349.0 999.4C352.2 997.5 355.8 993.8 357.8 990.7C359.7 987.5 360.6 983.9 360.7 980.5C360.8 977.1 358.9 972.0 358.5 970.3"/>
<path class="a" d="M354.8 987.8C354.7 986.5 355.1 981.9 354.1 980.5C353.2 979.0 350.8 978.5 349.0 979.0C347.2 979.5 344.3 981.5 343.2 983.4C342.1 985.3 341.7 988.9 342.5 990.7C343.2 992.5 346.0 994.0 347.6 994.3C349.1 994.7 351.2 993.1 351.9 992.9"/>
<path class="d" style="stroke-dasharray:5 3;stroke-width:1.8" d="M343.2 1000.9C344.7 1000.1 349.5 998.0 351.9 996.5C354.4 995.0 356.8 992.9 357.8 992.1M340.3 1008.1C342.2 1007.5 348.8 1006.5 351.9 1004.5C355.1 1002.6 358.0 997.8 359.2 996.5"/>
<path class="a" d="M357.8 996.5C359.0 995.4 362.6 990.9 365.0 989.9C367.5 989.0 371.1 990.6 372.3 990.7M328.6 1016.9C329.4 1015.1 331.5 1007.9 333.0 1006.0C334.5 1004.1 336.6 1005.6 337.4 1005.5M333.0 1019.1C333.7 1017.3 335.9 1010.2 337.4 1008.1C338.8 1006.1 341.0 1006.9 341.7 1006.7M376.7 1005.2L381.8 1009.6"/>
<path class="a" d="M369.4 995.0C369.9 993.6 372.1 991.9 373.8 992.1C375.5 992.4 378.4 994.6 379.6 996.5C380.8 998.4 381.5 1002.3 381.1 1003.8C380.6 1005.2 378.4 1005.7 376.7 1005.2C375.0 1004.8 372.1 1002.6 370.9 1000.9C369.7 999.2 368.9 996.5 369.4 995.0z"/>
<g class="b" style="opacity:0.999">
<text x="103.4" y="86.9" font-size="19" textLength="106.4" lengthAdjust="spacingAndGlyphs">90467–12026</text>
<text x="217.3" y="86.9" font-size="19" style="stroke-width:1.0" textLength="16.7" lengthAdjust="spacingAndGlyphs">(2)</text>
<text x="297.6" y="112.1" font-size="19" textLength="106.4" lengthAdjust="spacingAndGlyphs">90930–03097</text>
<text x="411.5" y="112.1" font-size="19" style="stroke-width:1.0" textLength="16.8" lengthAdjust="spacingAndGlyphs">(2)</text>
<text x="297.6" y="129.0" font-size="19" textLength="106.4" lengthAdjust="spacingAndGlyphs">90930–03141</text>
<text x="411.5" y="129.0" font-size="19" style="stroke-width:1.0" textLength="16.8" lengthAdjust="spacingAndGlyphs">(2)</text>
<text x="292.3" y="164.3" font-size="19" textLength="106.4" lengthAdjust="spacingAndGlyphs">96132–41100</text>
<text x="406.2" y="164.3" font-size="19" style="stroke-width:1.0" textLength="16.7" lengthAdjust="spacingAndGlyphs">(2)</text>
<text x="300.7" y="231.5" font-size="19" textLength="106.0" lengthAdjust="spacingAndGlyphs">90480–16024</text>
<text x="150.2" y="306.4" font-size="19" textLength="106.4" lengthAdjust="spacingAndGlyphs">90949–01925</text>
<text x="264.1" y="306.4" font-size="19" style="stroke-width:1.0" textLength="16.0" lengthAdjust="spacingAndGlyphs">(2)</text>
<text x="152.2" y="337.7" font-size="19" textLength="106.4" lengthAdjust="spacingAndGlyphs">91612–B1014</text>
<text x="266.1" y="337.7" font-size="19" style="stroke-width:1.0" textLength="16.1" lengthAdjust="spacingAndGlyphs">(2)</text>
<text x="413.5" y="259.3" font-size="19" textLength="106.4" lengthAdjust="spacingAndGlyphs">95381–03025</text>
<text x="527.4" y="259.3" font-size="19" style="stroke-width:1.0" textLength="15.6" lengthAdjust="spacingAndGlyphs">(6)</text>
<text x="413.5" y="293.6" font-size="19" textLength="106.4" lengthAdjust="spacingAndGlyphs">90171–14005</text>
<text x="527.4" y="293.6" font-size="19" style="stroke-width:1.0" textLength="15.6" lengthAdjust="spacingAndGlyphs">(6)</text>
<text x="409.0" y="325.0" font-size="19" textLength="106.4" lengthAdjust="spacingAndGlyphs">96132–41100</text>
<text x="522.9" y="325.0" font-size="19" style="stroke-width:1.0" textLength="16.1" lengthAdjust="spacingAndGlyphs">(2)</text>
<text x="467.4" y="179.6" font-size="19" textLength="106.4" lengthAdjust="spacingAndGlyphs">90904–47004</text>
<text x="581.3" y="179.6" font-size="19" style="stroke-width:1.0" textLength="26.9" lengthAdjust="spacingAndGlyphs">(RH)</text>
<text x="468.0" y="199.1" font-size="19" textLength="106.4" lengthAdjust="spacingAndGlyphs">90904–47007</text>
<text x="581.9" y="199.1" font-size="19" style="stroke-width:1.0" textLength="26.3" lengthAdjust="spacingAndGlyphs">(RH)</text>
<text x="467.4" y="217.8" font-size="19" textLength="106.4" lengthAdjust="spacingAndGlyphs">90904–47005</text>
<text x="581.3" y="217.8" font-size="19" style="stroke-width:1.0" textLength="25.9" lengthAdjust="spacingAndGlyphs">(LH)</text>
<text x="468.0" y="238.2" font-size="19" textLength="106.4" lengthAdjust="spacingAndGlyphs">90904–47008</text>
<text x="581.9" y="238.2" font-size="19" style="stroke-width:1.0" textLength="26.3" lengthAdjust="spacingAndGlyphs">(LH)</text>
<text x="584.5" y="144.8" font-size="19" textLength="106.4" lengthAdjust="spacingAndGlyphs">90339–08004</text>
<text x="698.4" y="144.8" font-size="19" style="stroke-width:1.0" textLength="16.8" lengthAdjust="spacingAndGlyphs">(6)</text>
<text x="971.8" y="82.5" font-size="20" textLength="69.3" lengthAdjust="spacingAndGlyphs">43211X</text>
<text x="1048.6" y="82.5" font-size="20" style="stroke-width:1.0" textLength="35.0" lengthAdjust="spacingAndGlyphs">(RH)</text>
<text x="972.8" y="102.7" font-size="20" textLength="69.3" lengthAdjust="spacingAndGlyphs">43212N</text>
<text x="1049.6" y="102.7" font-size="20" style="stroke-width:1.0" textLength="35.0" lengthAdjust="spacingAndGlyphs">(LH)</text>
<text x="1001.4" y="146.1" font-size="19" textLength="106.4" lengthAdjust="spacingAndGlyphs">90250–08035</text>
<text x="1115.3" y="146.1" font-size="19" style="stroke-width:1.0" textLength="16.4" lengthAdjust="spacingAndGlyphs">(2)</text>
<text x="1024.3" y="180.1" font-size="20" textLength="69.3" lengthAdjust="spacingAndGlyphs">43551A</text>
<text x="1101.1" y="180.1" font-size="20" style="stroke-width:1.0" textLength="33.6" lengthAdjust="spacingAndGlyphs">(RH)</text>
<text x="1023.3" y="200.3" font-size="20" textLength="69.3" lengthAdjust="spacingAndGlyphs">43551D</text>
<text x="1100.1" y="200.3" font-size="20" style="stroke-width:1.0" textLength="33.9" lengthAdjust="spacingAndGlyphs">(LH)</text>
<text x="670.7" y="291.9" font-size="20" textLength="69.3" lengthAdjust="spacingAndGlyphs">45611Q</text>
<text x="747.5" y="291.9" font-size="20" style="stroke-width:1.0" textLength="34.4" lengthAdjust="spacingAndGlyphs">(RH)</text>
<text x="670.7" y="314.8" font-size="20" textLength="69.3" lengthAdjust="spacingAndGlyphs">45612D</text>
<text x="747.5" y="314.8" font-size="20" style="stroke-width:1.0" textLength="33.3" lengthAdjust="spacingAndGlyphs">(LH)</text>
<text x="666.4" y="382.2" font-size="19" textLength="106.4" lengthAdjust="spacingAndGlyphs">90101–14042</text>
<text x="780.3" y="382.2" font-size="19" style="stroke-width:1.0" textLength="16.7" lengthAdjust="spacingAndGlyphs">(2)</text>
<text x="1194.7" y="190.2" font-size="20" textLength="69.3" lengthAdjust="spacingAndGlyphs">43551J</text>
<text x="1271.5" y="190.2" font-size="20" style="stroke-width:1.0" textLength="33.6" lengthAdjust="spacingAndGlyphs">(RH)</text>
<text x="1194.7" y="210.4" font-size="20" textLength="69.3" lengthAdjust="spacingAndGlyphs">43551K</text>
<text x="1271.5" y="210.4" font-size="20" style="stroke-width:1.0" textLength="34.3" lengthAdjust="spacingAndGlyphs">(LH)</text>
<text x="1137.4" y="244.1" font-size="20" textLength="57.8" lengthAdjust="spacingAndGlyphs">43551</text>
<text x="1202.7" y="244.1" font-size="20" style="stroke-width:1.0" textLength="34.1" lengthAdjust="spacingAndGlyphs">(RH)</text>
<text x="1134.7" y="263.3" font-size="20" textLength="69.3" lengthAdjust="spacingAndGlyphs">43551B</text>
<text x="1211.5" y="263.3" font-size="20" style="stroke-width:1.0" textLength="34.4" lengthAdjust="spacingAndGlyphs">(LH)</text>
<text x="1308.5" y="265.3" font-size="20" textLength="69.3" lengthAdjust="spacingAndGlyphs">43551J</text>
<text x="1385.3" y="265.3" font-size="20" style="stroke-width:1.0" textLength="34.0" lengthAdjust="spacingAndGlyphs">(RH)</text>
<text x="1309.2" y="284.5" font-size="20" textLength="69.3" lengthAdjust="spacingAndGlyphs">43551K</text>
<text x="1386.0" y="284.5" font-size="20" style="stroke-width:1.0" textLength="34.3" lengthAdjust="spacingAndGlyphs">(LH)</text>
<text x="1246.9" y="316.5" font-size="20" textLength="69.3" lengthAdjust="spacingAndGlyphs">43551A</text>
<text x="1323.7" y="316.5" font-size="20" style="stroke-width:1.0" textLength="34.3" lengthAdjust="spacingAndGlyphs">(RH)</text>
<text x="1245.2" y="337.4" font-size="20" textLength="69.3" lengthAdjust="spacingAndGlyphs">43551D</text>
<text x="1322.0" y="337.4" font-size="20" style="stroke-width:1.0" textLength="33.6" lengthAdjust="spacingAndGlyphs">(LH)</text>
<text x="126.9" y="391.3" font-size="19" textLength="106.4" lengthAdjust="spacingAndGlyphs">90311–60001</text>
<text x="240.8" y="391.3" font-size="19" style="stroke-width:1.0" textLength="16.8" lengthAdjust="spacingAndGlyphs">(2)</text>
<text x="90.9" y="421.3" font-size="20" textLength="70.0" lengthAdjust="spacingAndGlyphs">45413A</text>
<text x="164.3" y="448.6" font-size="19" textLength="106.4" lengthAdjust="spacingAndGlyphs">90341–18038</text>
<text x="278.2" y="448.6" font-size="19" style="stroke-width:1.0" textLength="16.7" lengthAdjust="spacingAndGlyphs">(2)</text>
<text x="208.8" y="480.5" font-size="19" textLength="106.4" lengthAdjust="spacingAndGlyphs">90430–18008</text>
<text x="322.7" y="480.5" font-size="19" style="stroke-width:1.0" textLength="16.7" lengthAdjust="spacingAndGlyphs">(2)</text>
<text x="66.3" y="529.4" font-size="20" textLength="69.3" lengthAdjust="spacingAndGlyphs">45619E</text>
<text x="143.1" y="529.4" font-size="20" style="stroke-width:1.0" textLength="33.7" lengthAdjust="spacingAndGlyphs">(RH)</text>
<text x="63.3" y="555.3" font-size="20" textLength="69.3" lengthAdjust="spacingAndGlyphs">45619F</text>
<text x="140.1" y="555.3" font-size="20" style="stroke-width:1.0" textLength="34.3" lengthAdjust="spacingAndGlyphs">(LH)</text>
<text x="223.9" y="593.3" font-size="20" textLength="69.7" lengthAdjust="spacingAndGlyphs">43142B</text>
<text x="131.3" y="631.0" font-size="19" textLength="106.4" lengthAdjust="spacingAndGlyphs">94130–01201</text>
<text x="245.2" y="631.0" font-size="19" style="stroke-width:1.0" textLength="16.8" lengthAdjust="spacingAndGlyphs">(2)</text>
<text x="324.9" y="634.4" font-size="19" textLength="106.4" lengthAdjust="spacingAndGlyphs">90430–18008</text>
<text x="438.8" y="634.4" font-size="19" style="stroke-width:1.0" textLength="16.8" lengthAdjust="spacingAndGlyphs">(2)</text>
<text x="331.0" y="664.7" font-size="19" textLength="106.4" lengthAdjust="spacingAndGlyphs">90341–18057</text>
<text x="444.9" y="664.7" font-size="19" style="stroke-width:1.0" textLength="16.4" lengthAdjust="spacingAndGlyphs">(2)</text>
<text x="543.5" y="418.9" font-size="19" textLength="106.4" lengthAdjust="spacingAndGlyphs">90404–51072</text>
<text x="657.4" y="418.9" font-size="19" style="stroke-width:1.0" textLength="16.7" lengthAdjust="spacingAndGlyphs">(2)</text>
<text x="799.4" y="419.9" font-size="19" textLength="106.4" lengthAdjust="spacingAndGlyphs">96711–31045</text>
<text x="913.3" y="419.9" font-size="19" style="stroke-width:1.0" textLength="16.7" lengthAdjust="spacingAndGlyphs">(2)</text>
<text x="914.9" y="446.9" font-size="19" textLength="104.3" lengthAdjust="spacingAndGlyphs">90368–63001</text>
<text x="622.6" y="496.7" font-size="19" textLength="106.4" lengthAdjust="spacingAndGlyphs">90102–14001</text>
<text x="736.5" y="496.7" font-size="19" style="stroke-width:1.0" textLength="16.7" lengthAdjust="spacingAndGlyphs">(6)</text>
<text x="980.5" y="490.6" font-size="19" textLength="106.4" lengthAdjust="spacingAndGlyphs">90903–87003</text>
<text x="1094.4" y="490.6" font-size="19" style="stroke-width:1.0" textLength="15.4" lengthAdjust="spacingAndGlyphs">(2)</text>
<text x="853.2" y="536.8" font-size="20" textLength="69.3" lengthAdjust="spacingAndGlyphs">43555A</text>
<text x="930.0" y="536.8" font-size="20" style="stroke-width:1.0" textLength="34.3" lengthAdjust="spacingAndGlyphs">(RH)</text>
<text x="853.2" y="558.0" font-size="20" textLength="69.3" lengthAdjust="spacingAndGlyphs">43556A</text>
<text x="930.0" y="558.0" font-size="20" style="stroke-width:1.0" textLength="34.3" lengthAdjust="spacingAndGlyphs">(LH)</text>
<text x="975.1" y="521.6" font-size="20" textLength="57.8" lengthAdjust="spacingAndGlyphs">43555</text>
<text x="1040.3" y="521.6" font-size="20" style="stroke-width:1.0" textLength="33.6" lengthAdjust="spacingAndGlyphs">(RH)</text>
<text x="976.1" y="541.8" font-size="20" textLength="57.8" lengthAdjust="spacingAndGlyphs">43556</text>
<text x="1041.3" y="541.8" font-size="20" style="stroke-width:1.0" textLength="33.6" lengthAdjust="spacingAndGlyphs">(LH)</text>
<text x="631.0" y="703.4" font-size="19" textLength="106.4" lengthAdjust="spacingAndGlyphs">90179–26007</text>
<text x="744.9" y="703.4" font-size="19" style="stroke-width:1.0" textLength="16.8" lengthAdjust="spacingAndGlyphs">(2)</text>
<text x="634.4" y="731.5" font-size="20" textLength="58.9" lengthAdjust="spacingAndGlyphs">43557</text>
<text x="1295.7" y="467.1" font-size="19" textLength="106.4" lengthAdjust="spacingAndGlyphs">90560–50002</text>
<text x="1409.6" y="467.1" font-size="19" style="stroke-width:1.0" textLength="17.4" lengthAdjust="spacingAndGlyphs">(2)</text>
<text x="1374.1" y="503.1" font-size="20" textLength="69.7" lengthAdjust="spacingAndGlyphs">43521E</text>
<text x="1414.5" y="542.2" font-size="19" textLength="106.4" lengthAdjust="spacingAndGlyphs">93311–16010</text>
<text x="1528.4" y="542.2" font-size="19" style="stroke-width:1.0" textLength="16.4" lengthAdjust="spacingAndGlyphs">(2)</text>
<text x="1127.3" y="544.5" font-size="20" textLength="69.3" lengthAdjust="spacingAndGlyphs">43552A</text>
<text x="1204.1" y="544.5" font-size="20" style="stroke-width:1.0" textLength="33.7" lengthAdjust="spacingAndGlyphs">(RH)</text>
<text x="1127.3" y="563.0" font-size="20" textLength="69.3" lengthAdjust="spacingAndGlyphs">43553A</text>
<text x="1204.1" y="563.0" font-size="20" style="stroke-width:1.0" textLength="33.7" lengthAdjust="spacingAndGlyphs">(LH)</text>
<text x="1114.5" y="604.1" font-size="20" textLength="57.8" lengthAdjust="spacingAndGlyphs">43552</text>
<text x="1179.8" y="604.1" font-size="20" style="stroke-width:1.0" textLength="34.5" lengthAdjust="spacingAndGlyphs">(RH)</text>
<text x="1113.2" y="624.3" font-size="20" textLength="57.8" lengthAdjust="spacingAndGlyphs">43553</text>
<text x="1178.5" y="624.3" font-size="20" style="stroke-width:1.0" textLength="34.0" lengthAdjust="spacingAndGlyphs">(LH)</text>
<text x="1220.9" y="623.3" font-size="19" textLength="106.1" lengthAdjust="spacingAndGlyphs">90366–50007</text>
<text x="1127.3" y="652.9" font-size="19" textLength="106.4" lengthAdjust="spacingAndGlyphs">90101–14070</text>
<text x="1241.2" y="652.9" font-size="19" style="stroke-width:1.0" textLength="16.8" lengthAdjust="spacingAndGlyphs">(2)</text>
<text x="1268.0" y="652.9" font-size="19" textLength="53.0" lengthAdjust="spacingAndGlyphs">(L=73)</text>
<text x="1125.0" y="673.1" font-size="19" textLength="106.4" lengthAdjust="spacingAndGlyphs">90101–14060</text>
<text x="1238.9" y="673.1" font-size="19" style="stroke-width:1.0" textLength="17.4" lengthAdjust="spacingAndGlyphs">(2)</text>
<text x="1268.0" y="674.8" font-size="19" textLength="53.0" lengthAdjust="spacingAndGlyphs">(L=50)</text>
<text x="1332.0" y="655.3" font-size="20" textLength="69.7" lengthAdjust="spacingAndGlyphs">43552B</text>
<text x="1377.5" y="687.3" font-size="20" textLength="69.7" lengthAdjust="spacingAndGlyphs">43523C</text>
<text x="1405.0" y="717.9" font-size="19" textLength="106.4" lengthAdjust="spacingAndGlyphs">93311–16010</text>
<text x="1518.9" y="717.9" font-size="19" style="stroke-width:1.0" textLength="16.5" lengthAdjust="spacingAndGlyphs">(2)</text>
<text x="1170.4" y="699.0" font-size="20" textLength="69.3" lengthAdjust="spacingAndGlyphs">42401H</text>
<text x="1247.2" y="699.0" font-size="20" style="stroke-width:1.0" textLength="34.3" lengthAdjust="spacingAndGlyphs">(RH)</text>
<text x="1169.4" y="720.3" font-size="20" textLength="69.3" lengthAdjust="spacingAndGlyphs">42402H</text>
<text x="1246.2" y="720.3" font-size="20" style="stroke-width:1.0" textLength="34.3" lengthAdjust="spacingAndGlyphs">(LH)</text>
<text x="130.6" y="768.4" font-size="19" textLength="106.4" lengthAdjust="spacingAndGlyphs">90461–12407</text>
<text x="244.5" y="768.4" font-size="19" style="stroke-width:1.0" textLength="16.5" lengthAdjust="spacingAndGlyphs">(2)</text>
<text x="253.5" y="791.3" font-size="19" textLength="106.4" lengthAdjust="spacingAndGlyphs">90461–12407</text>
<text x="367.4" y="791.3" font-size="19" style="stroke-width:1.0" textLength="17.4" lengthAdjust="spacingAndGlyphs">(2)</text>
<text x="263.3" y="867.0" font-size="19" textLength="106.4" lengthAdjust="spacingAndGlyphs">91611–B0812</text>
<text x="377.2" y="867.0" font-size="19" style="stroke-width:1.0" textLength="16.7" lengthAdjust="spacingAndGlyphs">(2)</text>
<text x="97.6" y="922.6" font-size="19" textLength="106.4" lengthAdjust="spacingAndGlyphs">91611–B0812</text>
<text x="211.5" y="922.6" font-size="19" style="stroke-width:1.0" textLength="17.5" lengthAdjust="spacingAndGlyphs">(2)</text>
<text x="599.0" y="852.9" font-size="20" textLength="58.3" lengthAdjust="spacingAndGlyphs">43558</text>
<text x="663.0" y="873.8" font-size="19" textLength="106.4" lengthAdjust="spacingAndGlyphs">90119–08165</text>
<text x="776.9" y="873.8" font-size="19" style="stroke-width:1.0" textLength="16.4" lengthAdjust="spacingAndGlyphs">(8)</text>
<text x="754.9" y="900.0" font-size="19" textLength="106.4" lengthAdjust="spacingAndGlyphs">90159–60538</text>
<text x="868.8" y="900.0" font-size="19" style="stroke-width:1.0" textLength="26.5" lengthAdjust="spacingAndGlyphs">(12)</text>
<text x="503.0" y="1011.8" font-size="19" textLength="106.4" lengthAdjust="spacingAndGlyphs">90301–99080</text>
<text x="616.9" y="1011.8" font-size="19" style="stroke-width:1.0" textLength="16.8" lengthAdjust="spacingAndGlyphs">(2)</text>
<text x="632.0" y="1040.4" font-size="20" textLength="71.4" lengthAdjust="spacingAndGlyphs">42621A</text>
<text x="764.7" y="765.4" font-size="19" textLength="106.4" lengthAdjust="spacingAndGlyphs">90170–14027</text>
<text x="878.6" y="765.4" font-size="19" style="stroke-width:1.0" textLength="16.7" lengthAdjust="spacingAndGlyphs">(2)</text>
<text x="841.5" y="837.8" font-size="19" textLength="106.4" lengthAdjust="spacingAndGlyphs">90101–12185</text>
<text x="955.4" y="837.8" font-size="19" style="stroke-width:1.0" textLength="16.4" lengthAdjust="spacingAndGlyphs">(6)</text>
<text x="918.2" y="861.0" font-size="19" textLength="52.8" lengthAdjust="spacingAndGlyphs">(L=47)</text>
<text x="995.3" y="877.8" font-size="20" textLength="69.3" lengthAdjust="spacingAndGlyphs">43555A</text>
<text x="1072.1" y="877.8" font-size="20" style="stroke-width:1.0" textLength="33.4" lengthAdjust="spacingAndGlyphs">(RH)</text>
<text x="996.3" y="895.7" font-size="20" textLength="69.3" lengthAdjust="spacingAndGlyphs">43556A</text>
<text x="1073.1" y="895.7" font-size="20" style="stroke-width:1.0" textLength="33.4" lengthAdjust="spacingAndGlyphs">(LH)</text>
<text x="1291.6" y="772.1" font-size="20" textLength="57.8" lengthAdjust="spacingAndGlyphs">43513</text>
<text x="1356.8" y="772.1" font-size="20" style="stroke-width:1.0" textLength="33.2" lengthAdjust="spacingAndGlyphs">(RH)</text>
<text x="1286.3" y="795.7" font-size="20" textLength="69.3" lengthAdjust="spacingAndGlyphs">43514D</text>
<text x="1363.1" y="795.7" font-size="20" style="stroke-width:1.0" textLength="33.6" lengthAdjust="spacingAndGlyphs">(LH)</text>
<text x="1386.6" y="852.6" font-size="19" textLength="106.4" lengthAdjust="spacingAndGlyphs">90101–08039</text>
<text x="1500.5" y="852.6" font-size="19" style="stroke-width:1.0" textLength="16.7" lengthAdjust="spacingAndGlyphs">(3)</text>
<text x="1097.7" y="940.4" font-size="20" textLength="69.3" lengthAdjust="spacingAndGlyphs">42401G</text>
<text x="1174.5" y="940.4" font-size="20" style="stroke-width:1.0" textLength="34.3" lengthAdjust="spacingAndGlyphs">(RH)</text>
<text x="1095.4" y="961.3" font-size="20" textLength="69.3" lengthAdjust="spacingAndGlyphs">42402G</text>
<text x="1172.2" y="961.3" font-size="20" style="stroke-width:1.0" textLength="34.9" lengthAdjust="spacingAndGlyphs">(LH)</text>
<text x="1230.0" y="944.5" font-size="20" textLength="57.8" lengthAdjust="spacingAndGlyphs">43522</text>
<text x="1295.2" y="944.5" font-size="20" style="stroke-width:1.0" textLength="34.2" lengthAdjust="spacingAndGlyphs">(RH)</text>
<text x="1227.7" y="965.4" font-size="20" textLength="69.3" lengthAdjust="spacingAndGlyphs">43522A</text>
<text x="1304.5" y="965.4" font-size="20" style="stroke-width:1.0" textLength="34.3" lengthAdjust="spacingAndGlyphs">(LH)</text>
<text x="1146.9" y="1004.4" font-size="20" textLength="69.3" lengthAdjust="spacingAndGlyphs">42401F</text>
<text x="1223.7" y="1004.4" font-size="20" style="stroke-width:1.0" textLength="34.3" lengthAdjust="spacingAndGlyphs">(RH)</text>
<text x="1145.9" y="1027.0" font-size="20" textLength="69.3" lengthAdjust="spacingAndGlyphs">42402F</text>
<text x="1222.7" y="1027.0" font-size="20" style="stroke-width:1.0" textLength="33.6" lengthAdjust="spacingAndGlyphs">(LH)</text>
<text x="1382.2" y="985.9" font-size="19" textLength="106.4" lengthAdjust="spacingAndGlyphs">90201–08049</text>
<text x="1496.1" y="985.9" font-size="19" style="stroke-width:1.0" textLength="16.8" lengthAdjust="spacingAndGlyphs">(4)</text>
<text x="1333.4" y="1013.5" font-size="20" textLength="69.3" lengthAdjust="spacingAndGlyphs">43523D</text>
<text x="1410.2" y="1013.5" font-size="20" style="stroke-width:1.0" textLength="33.6" lengthAdjust="spacingAndGlyphs">(RH)</text>
<text x="1332.0" y="1033.7" font-size="20" textLength="69.3" lengthAdjust="spacingAndGlyphs">43523E</text>
<text x="1408.8" y="1033.7" font-size="20" style="stroke-width:1.0" textLength="34.4" lengthAdjust="spacingAndGlyphs">(LH)</text>
<text x="1480.9" y="1085.2" font-size="20" textLength="93.6" lengthAdjust="spacingAndGlyphs">410488–D</text>
</g>
<text x="53.9" y="185.5" font-size="17" font-weight="bold" textLength="76.7" lengthAdjust="spacingAndGlyphs">REFER TO</text>
<text x="53.9" y="202.0" font-size="17" font-weight="bold" textLength="86.1" lengthAdjust="spacingAndGlyphs">FIG 41–02</text>
<text x="617.7" y="57.2" font-size="19" font-weight="bold" textLength="63.2" lengthAdjust="spacingAndGlyphs">–9804)</text>
<text x="563.7" y="57.5" font-size="19" font-weight="bold" textLength="5.3" lengthAdjust="spacingAndGlyphs">(</text>
<text x="563.7" y="78.6" font-size="19" font-weight="bold" textLength="64.4" lengthAdjust="spacingAndGlyphs">(9804–</text>
<text x="675.8" y="78.0" font-size="19" font-weight="bold" textLength="5.1" lengthAdjust="spacingAndGlyphs">)</text>
<text x="545.5" y="59.3" font-size="20" font-weight="bold" textLength="8.3" lengthAdjust="spacingAndGlyphs">1</text>
<text x="545.5" y="84.0" font-size="21" font-weight="bold" textLength="11.0" lengthAdjust="spacingAndGlyphs">2</text>
<text x="452.3" y="180.3" font-size="20" font-weight="bold" textLength="8.4" lengthAdjust="spacingAndGlyphs">1</text>
<text x="448.1" y="199.5" font-size="21" font-weight="bold" textLength="12.2" lengthAdjust="spacingAndGlyphs">2</text>
<text x="452.3" y="220.0" font-size="20" font-weight="bold" textLength="8.4" lengthAdjust="spacingAndGlyphs">1</text>
<text x="448.1" y="240.0" font-size="21" font-weight="bold" textLength="12.2" lengthAdjust="spacingAndGlyphs">2</text>
<g class="t" style="stroke-width:2.1"><path d="M523.5 43.7L540.5 60.7M540.5 43.7L523.5 60.7"/></g><circle class="f" cx="532.0" cy="46.9" r="2.2"/><circle class="f" cx="532.0" cy="57.5" r="2.2"/><circle class="f" cx="526.7" cy="52.2" r="2.2"/><circle class="f" cx="537.3" cy="52.2" r="2.2"/>
<g class="t" style="stroke-width:2.1"><path d="M523.5 66.8L540.5 83.8M540.5 66.8L523.5 83.8"/></g><circle class="f" cx="532.0" cy="70.0" r="2.2"/><circle class="f" cx="532.0" cy="80.6" r="2.2"/><circle class="f" cx="526.7" cy="75.3" r="2.2"/><circle class="f" cx="537.3" cy="75.3" r="2.2"/>
<g class="t" style="stroke-width:2.1"><path d="M429.9 164.7L446.5 181.3M446.5 164.7L429.9 181.3"/></g><circle class="f" cx="438.2" cy="167.9" r="2.2"/><circle class="f" cx="438.2" cy="178.1" r="2.2"/><circle class="f" cx="433.1" cy="173.0" r="2.2"/><circle class="f" cx="443.3" cy="173.0" r="2.2"/>
<g class="t" style="stroke-width:2.1"><path d="M427.5 183.3L444.1 199.9M444.1 183.3L427.5 199.9"/></g><circle class="f" cx="435.8" cy="186.5" r="2.2"/><circle class="f" cx="435.8" cy="196.7" r="2.2"/><circle class="f" cx="430.7" cy="191.6" r="2.2"/><circle class="f" cx="440.9" cy="191.6" r="2.2"/>
<g class="t" style="stroke-width:2.1"><path d="M429.9 204.3L446.5 220.9M446.5 204.3L429.9 220.9"/></g><circle class="f" cx="438.2" cy="207.5" r="2.2"/><circle class="f" cx="438.2" cy="217.7" r="2.2"/><circle class="f" cx="433.1" cy="212.6" r="2.2"/><circle class="f" cx="443.3" cy="212.6" r="2.2"/>
<g class="t" style="stroke-width:2.1"><path d="M427.5 224.1L444.1 240.7M444.1 224.1L427.5 240.7"/></g><circle class="f" cx="435.8" cy="227.3" r="2.2"/><circle class="f" cx="435.8" cy="237.5" r="2.2"/><circle class="f" cx="430.7" cy="232.4" r="2.2"/><circle class="f" cx="440.9" cy="232.4" r="2.2"/>
</svg></body></html>
